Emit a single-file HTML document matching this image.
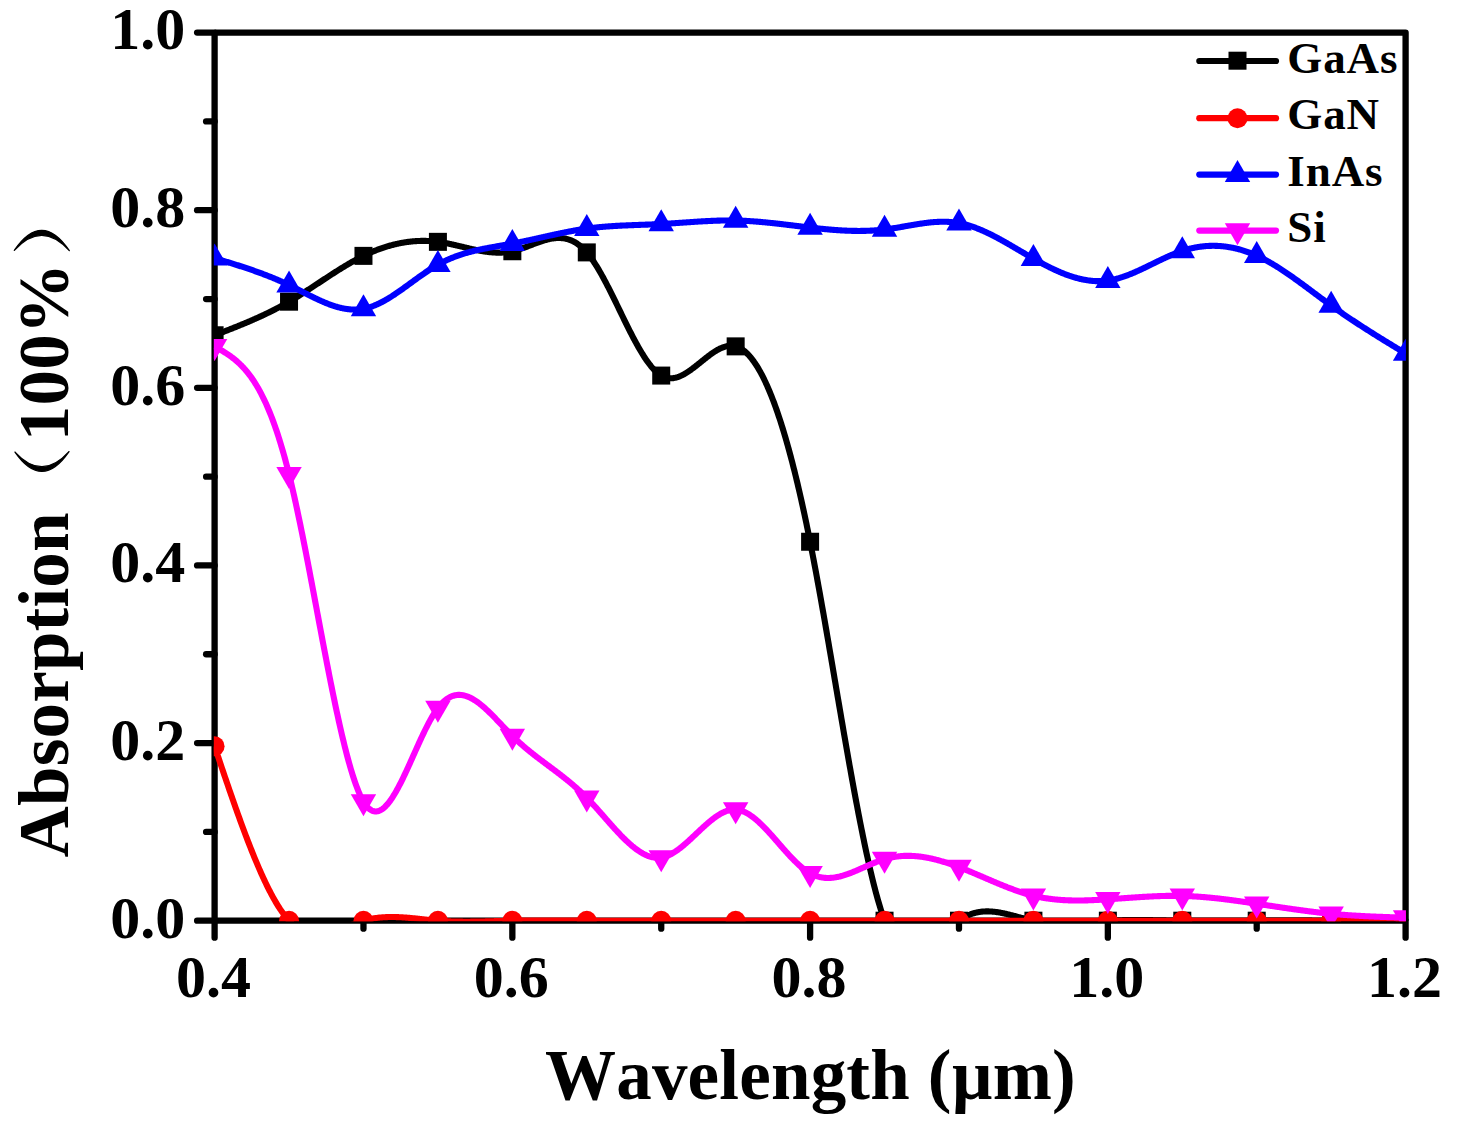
<!DOCTYPE html>
<html><head><meta charset="utf-8"><style>
html,body{margin:0;padding:0;background:#fff;width:1459px;height:1130px;overflow:hidden;}
svg{display:block;}
text{font-family:"Liberation Serif",serif;font-weight:bold;font-kerning:none;}
</style></head><body>
<svg width="1459" height="1130" viewBox="0 0 1459 1130">
<defs><clipPath id="pc"><rect x="213.80" y="32.60" width="1192.10" height="888.60"/></clipPath></defs>
<path d="M214.60,32.60 H1405.60 V920.70" fill="none" stroke="#000" stroke-width="6.30" stroke-linejoin="round"/>
<path d="M214.60,32.60 V920.70 H1405.60" fill="none" stroke="#000" stroke-width="6.30" stroke-linejoin="round"/>
<path d="M197.10,920.70 H214.60" stroke="#000" stroke-width="6.30" stroke-linecap="round"/>
<path d="M206.10,831.89 H214.60" stroke="#000" stroke-width="6.30" stroke-linecap="round"/>
<path d="M197.10,743.08 H214.60" stroke="#000" stroke-width="6.30" stroke-linecap="round"/>
<path d="M206.10,654.27 H214.60" stroke="#000" stroke-width="6.30" stroke-linecap="round"/>
<path d="M197.10,565.46 H214.60" stroke="#000" stroke-width="6.30" stroke-linecap="round"/>
<path d="M206.10,476.65 H214.60" stroke="#000" stroke-width="6.30" stroke-linecap="round"/>
<path d="M197.10,387.84 H214.60" stroke="#000" stroke-width="6.30" stroke-linecap="round"/>
<path d="M206.10,299.03 H214.60" stroke="#000" stroke-width="6.30" stroke-linecap="round"/>
<path d="M197.10,210.22 H214.60" stroke="#000" stroke-width="6.30" stroke-linecap="round"/>
<path d="M206.10,121.41 H214.60" stroke="#000" stroke-width="6.30" stroke-linecap="round"/>
<path d="M197.10,32.60 H214.60" stroke="#000" stroke-width="6.30" stroke-linecap="round"/>
<path d="M214.60,920.70 V937.70" stroke="#000" stroke-width="6.30" stroke-linecap="round"/>
<path d="M363.47,920.70 V928.70" stroke="#000" stroke-width="6.30" stroke-linecap="round"/>
<path d="M512.35,920.70 V937.70" stroke="#000" stroke-width="6.30" stroke-linecap="round"/>
<path d="M661.23,920.70 V928.70" stroke="#000" stroke-width="6.30" stroke-linecap="round"/>
<path d="M810.10,920.70 V937.70" stroke="#000" stroke-width="6.30" stroke-linecap="round"/>
<path d="M958.98,920.70 V928.70" stroke="#000" stroke-width="6.30" stroke-linecap="round"/>
<path d="M1107.85,920.70 V937.70" stroke="#000" stroke-width="6.30" stroke-linecap="round"/>
<path d="M1256.72,920.70 V928.70" stroke="#000" stroke-width="6.30" stroke-linecap="round"/>
<path d="M1405.60,920.70 V937.70" stroke="#000" stroke-width="6.30" stroke-linecap="round"/>
<text x="185.25" y="937.50" font-size="60" text-anchor="end">0.0</text>
<text x="185.25" y="759.88" font-size="60" text-anchor="end">0.2</text>
<text x="185.25" y="582.26" font-size="60" text-anchor="end">0.4</text>
<text x="185.25" y="404.64" font-size="60" text-anchor="end">0.6</text>
<text x="185.25" y="227.02" font-size="60" text-anchor="end">0.8</text>
<text x="185.25" y="49.40" font-size="60" text-anchor="end">1.0</text>
<text x="213.40" y="996.5" font-size="60" text-anchor="middle">0.4</text>
<text x="511.15" y="996.5" font-size="60" text-anchor="middle">0.6</text>
<text x="808.90" y="996.5" font-size="60" text-anchor="middle">0.8</text>
<text x="1106.65" y="996.5" font-size="60" text-anchor="middle">1.0</text>
<text x="1404.40" y="996.5" font-size="60" text-anchor="middle">1.2</text>
<text x="545.0" y="1099.1" font-size="71.0" letter-spacing="0.2">Wavelength (&#181;m)</text>
<g transform="translate(68.3,857.5) rotate(-90)">
<text x="0" y="0" font-size="71.0" letter-spacing="0.2">Absorption</text>
<text x="416.3" y="0" font-size="71.0" letter-spacing="0.2">100%</text>
</g>
<path d="M15,452.1 Q42,490.95 69,451.6 Q42,481.55 15,452.1 Z" fill="#000" stroke="#000" stroke-width="1.3" stroke-linejoin="round"/>
<path d="M14.3,250.3 Q41.8,210.15 69.3,250.6 Q41.8,220.15 14.3,250.3 Z" fill="#000" stroke="#000" stroke-width="1.3" stroke-linejoin="round"/>
<g clip-path="url(#pc)">
<path d="M214.60,335.26 L215.34,334.98 L216.09,334.69 L216.83,334.40 L217.58,334.11 L218.32,333.83 L219.07,333.54 L219.81,333.25 L220.56,332.96 L221.30,332.67 L222.04,332.39 L222.79,332.10 L223.53,331.81 L224.28,331.52 L225.02,331.23 L225.77,330.94 L226.51,330.65 L227.25,330.36 L228.00,330.06 L228.74,329.77 L229.49,329.48 L230.23,329.18 L230.98,328.89 L231.72,328.60 L232.47,328.30 L233.21,328.00 L233.95,327.71 L234.70,327.41 L235.44,327.11 L236.19,326.81 L236.93,326.51 L237.68,326.21 L238.42,325.91 L239.16,325.61 L239.91,325.30 L240.65,325.00 L241.40,324.69 L242.14,324.39 L242.89,324.08 L243.63,323.77 L244.38,323.46 L245.12,323.15 L245.86,322.84 L246.61,322.52 L247.35,322.21 L248.10,321.89 L248.84,321.58 L249.59,321.26 L250.33,320.94 L251.07,320.61 L251.82,320.29 L252.56,319.97 L253.31,319.64 L254.05,319.31 L254.80,318.99 L255.54,318.66 L256.29,318.32 L257.03,317.99 L257.77,317.65 L258.52,317.32 L259.26,316.98 L260.01,316.64 L260.75,316.30 L261.50,315.95 L262.24,315.61 L262.98,315.26 L263.73,314.91 L264.47,314.56 L265.22,314.20 L265.96,313.85 L266.71,313.49 L267.45,313.13 L268.20,312.77 L268.94,312.41 L269.68,312.04 L270.43,311.67 L271.17,311.30 L271.92,310.93 L272.66,310.56 L273.41,310.18 L274.15,309.80 L274.89,309.42 L275.64,309.04 L276.38,308.65 L277.13,308.26 L277.87,307.87 L278.62,307.48 L279.36,307.08 L280.10,306.68 L280.85,306.28 L281.59,305.88 L282.34,305.47 L283.08,305.06 L283.83,304.65 L284.57,304.24 L285.32,303.82 L286.06,303.40 L286.80,302.98 L287.55,302.55 L288.29,302.13 L289.04,301.69 L289.78,301.26 L290.53,300.82 L291.27,300.38 L292.01,299.94 L292.76,299.50 L293.50,299.05 L294.25,298.60 L294.99,298.15 L295.74,297.69 L296.48,297.24 L297.23,296.78 L297.97,296.32 L298.71,295.85 L299.46,295.39 L300.20,294.92 L300.95,294.45 L301.69,293.98 L302.44,293.51 L303.18,293.04 L303.92,292.56 L304.67,292.09 L305.41,291.61 L306.16,291.13 L306.90,290.65 L307.65,290.16 L308.39,289.68 L309.14,289.20 L309.88,288.71 L310.62,288.23 L311.37,287.74 L312.11,287.25 L312.86,286.76 L313.60,286.28 L314.35,285.79 L315.09,285.30 L315.83,284.81 L316.58,284.31 L317.32,283.82 L318.07,283.33 L318.81,282.84 L319.56,282.35 L320.30,281.86 L321.05,281.37 L321.79,280.88 L322.53,280.39 L323.28,279.90 L324.02,279.41 L324.77,278.92 L325.51,278.43 L326.26,277.94 L327.00,277.45 L327.75,276.97 L328.49,276.48 L329.23,275.99 L329.98,275.51 L330.72,275.03 L331.47,274.54 L332.21,274.06 L332.96,273.58 L333.70,273.10 L334.44,272.63 L335.19,272.15 L335.93,271.68 L336.68,271.21 L337.42,270.74 L338.17,270.27 L338.91,269.80 L339.66,269.33 L340.40,268.87 L341.14,268.41 L341.89,267.95 L342.63,267.49 L343.38,267.04 L344.12,266.59 L344.87,266.14 L345.61,265.69 L346.35,265.24 L347.10,264.80 L347.84,264.36 L348.59,263.92 L349.33,263.49 L350.08,263.06 L350.82,262.63 L351.56,262.20 L352.31,261.78 L353.05,261.36 L353.80,260.95 L354.54,260.53 L355.29,260.12 L356.03,259.72 L356.78,259.32 L357.52,258.92 L358.26,258.52 L359.01,258.13 L359.75,257.75 L360.50,257.36 L361.24,256.98 L361.99,256.61 L362.73,256.24 L363.47,255.87 L364.22,255.51 L364.96,255.15 L365.71,254.79 L366.45,254.44 L367.20,254.10 L367.94,253.75 L368.69,253.42 L369.43,253.08 L370.17,252.76 L370.92,252.43 L371.66,252.11 L372.41,251.80 L373.15,251.48 L373.90,251.18 L374.64,250.87 L375.38,250.58 L376.13,250.28 L376.87,249.99 L377.62,249.71 L378.36,249.43 L379.11,249.15 L379.85,248.88 L380.60,248.61 L381.34,248.35 L382.08,248.09 L382.83,247.83 L383.57,247.58 L384.32,247.34 L385.06,247.10 L385.81,246.86 L386.55,246.63 L387.29,246.40 L388.04,246.18 L388.78,245.96 L389.53,245.75 L390.27,245.54 L391.02,245.33 L391.76,245.13 L392.51,244.93 L393.25,244.74 L393.99,244.56 L394.74,244.37 L395.48,244.20 L396.23,244.02 L396.97,243.85 L397.72,243.69 L398.46,243.53 L399.20,243.38 L399.95,243.23 L400.69,243.08 L401.44,242.94 L402.18,242.80 L402.93,242.67 L403.67,242.54 L404.42,242.42 L405.16,242.30 L405.90,242.19 L406.65,242.08 L407.39,241.98 L408.14,241.88 L408.88,241.78 L409.63,241.69 L410.37,241.61 L411.12,241.53 L411.86,241.45 L412.60,241.38 L413.35,241.31 L414.09,241.25 L414.84,241.20 L415.58,241.14 L416.33,241.10 L417.07,241.06 L417.81,241.02 L418.56,240.98 L419.30,240.96 L420.05,240.93 L420.79,240.91 L421.54,240.90 L422.28,240.89 L423.02,240.89 L423.77,240.89 L424.51,240.90 L425.26,240.91 L426.00,240.92 L426.75,240.94 L427.49,240.97 L428.24,241.00 L428.98,241.03 L429.72,241.07 L430.47,241.12 L431.21,241.17 L431.96,241.22 L432.70,241.28 L433.45,241.35 L434.19,241.41 L434.94,241.49 L435.68,241.57 L436.42,241.65 L437.17,241.74 L437.91,241.84 L438.66,241.94 L439.40,242.04 L440.15,242.15 L440.89,242.26 L441.63,242.38 L442.38,242.50 L443.12,242.63 L443.87,242.76 L444.61,242.89 L445.36,243.03 L446.10,243.17 L446.85,243.31 L447.59,243.46 L448.33,243.61 L449.08,243.76 L449.82,243.92 L450.57,244.08 L451.31,244.24 L452.06,244.40 L452.80,244.57 L453.54,244.74 L454.29,244.90 L455.03,245.08 L455.78,245.25 L456.52,245.42 L457.27,245.60 L458.01,245.77 L458.75,245.95 L459.50,246.13 L460.24,246.30 L460.99,246.48 L461.73,246.66 L462.48,246.84 L463.22,247.02 L463.97,247.20 L464.71,247.38 L465.45,247.56 L466.20,247.73 L466.94,247.91 L467.69,248.09 L468.43,248.26 L469.18,248.43 L469.92,248.61 L470.67,248.78 L471.41,248.95 L472.15,249.11 L472.90,249.28 L473.64,249.44 L474.39,249.60 L475.13,249.76 L475.88,249.92 L476.62,250.07 L477.36,250.22 L478.11,250.37 L478.85,250.51 L479.60,250.65 L480.34,250.79 L481.09,250.92 L481.83,251.05 L482.58,251.18 L483.32,251.30 L484.06,251.42 L484.81,251.53 L485.55,251.64 L486.30,251.74 L487.04,251.84 L487.79,251.94 L488.53,252.03 L489.27,252.11 L490.02,252.19 L490.76,252.26 L491.51,252.33 L492.25,252.39 L493.00,252.44 L493.74,252.49 L494.49,252.53 L495.23,252.57 L495.97,252.60 L496.72,252.62 L497.46,252.64 L498.21,252.65 L498.95,252.65 L499.70,252.64 L500.44,252.63 L501.18,252.60 L501.93,252.58 L502.67,252.54 L503.42,252.49 L504.16,252.44 L504.91,252.38 L505.65,252.30 L506.40,252.22 L507.14,252.14 L507.88,252.04 L508.63,251.93 L509.37,251.81 L510.12,251.69 L510.86,251.55 L511.61,251.41 L512.35,251.25 L513.09,251.08 L513.84,250.91 L514.58,250.72 L515.33,250.53 L516.07,250.33 L516.82,250.12 L517.56,249.90 L518.31,249.68 L519.05,249.44 L519.79,249.20 L520.54,248.96 L521.28,248.71 L522.03,248.45 L522.77,248.19 L523.52,247.93 L524.26,247.66 L525.00,247.39 L525.75,247.11 L526.49,246.83 L527.24,246.55 L527.98,246.27 L528.73,245.99 L529.47,245.70 L530.21,245.41 L530.96,245.13 L531.70,244.84 L532.45,244.55 L533.19,244.27 L533.94,243.98 L534.68,243.70 L535.43,243.42 L536.17,243.14 L536.91,242.87 L537.66,242.60 L538.40,242.33 L539.15,242.07 L539.89,241.81 L540.64,241.55 L541.38,241.30 L542.12,241.06 L542.87,240.82 L543.61,240.59 L544.36,240.37 L545.10,240.15 L545.85,239.94 L546.59,239.74 L547.34,239.55 L548.08,239.37 L548.82,239.20 L549.57,239.03 L550.31,238.88 L551.06,238.74 L551.80,238.61 L552.55,238.49 L553.29,238.38 L554.03,238.28 L554.78,238.20 L555.52,238.13 L556.27,238.07 L557.01,238.03 L557.76,238.00 L558.50,237.99 L559.25,237.99 L559.99,238.01 L560.73,238.04 L561.48,238.09 L562.22,238.16 L562.97,238.24 L563.71,238.34 L564.46,238.46 L565.20,238.60 L565.94,238.75 L566.69,238.93 L567.43,239.12 L568.18,239.34 L568.92,239.57 L569.67,239.83 L570.41,240.11 L571.16,240.40 L571.90,240.73 L572.64,241.07 L573.39,241.44 L574.13,241.82 L574.88,242.24 L575.62,242.68 L576.37,243.14 L577.11,243.62 L577.85,244.14 L578.60,244.67 L579.34,245.24 L580.09,245.83 L580.83,246.45 L581.58,247.09 L582.32,247.76 L583.07,248.46 L583.81,249.19 L584.55,249.95 L585.30,250.74 L586.04,251.56 L586.79,252.40 L587.53,253.28 L588.28,254.19 L589.02,255.13 L589.76,256.09 L590.51,257.09 L591.25,258.11 L592.00,259.16 L592.74,260.23 L593.49,261.33 L594.23,262.45 L594.98,263.59 L595.72,264.76 L596.46,265.95 L597.21,267.17 L597.95,268.40 L598.70,269.65 L599.44,270.93 L600.19,272.22 L600.93,273.53 L601.67,274.86 L602.42,276.20 L603.16,277.56 L603.91,278.93 L604.65,280.32 L605.40,281.73 L606.14,283.14 L606.89,284.57 L607.63,286.02 L608.37,287.47 L609.12,288.93 L609.86,290.40 L610.61,291.88 L611.35,293.37 L612.10,294.87 L612.84,296.37 L613.59,297.89 L614.33,299.40 L615.07,300.92 L615.82,302.45 L616.56,303.97 L617.31,305.51 L618.05,307.04 L618.80,308.57 L619.54,310.11 L620.28,311.64 L621.03,313.18 L621.77,314.71 L622.52,316.24 L623.26,317.77 L624.01,319.29 L624.75,320.81 L625.50,322.33 L626.24,323.84 L626.98,325.34 L627.73,326.84 L628.47,328.32 L629.22,329.80 L629.96,331.28 L630.71,332.74 L631.45,334.19 L632.19,335.63 L632.94,337.05 L633.68,338.47 L634.43,339.87 L635.17,341.26 L635.92,342.63 L636.66,343.99 L637.40,345.33 L638.15,346.65 L638.89,347.96 L639.64,349.25 L640.38,350.52 L641.13,351.77 L641.87,353.00 L642.62,354.21 L643.36,355.40 L644.10,356.56 L644.85,357.70 L645.59,358.82 L646.34,359.91 L647.08,360.98 L647.83,362.03 L648.57,363.04 L649.31,364.03 L650.06,364.99 L650.80,365.93 L651.55,366.83 L652.29,367.70 L653.04,368.54 L653.78,369.36 L654.53,370.13 L655.27,370.88 L656.01,371.59 L656.76,372.27 L657.50,372.91 L658.25,373.52 L658.99,374.09 L659.74,374.63 L660.48,375.13 L661.22,375.58 L661.97,376.00 L662.71,376.39 L663.46,376.73 L664.20,377.04 L664.95,377.31 L665.69,377.54 L666.44,377.74 L667.18,377.91 L667.92,378.04 L668.67,378.14 L669.41,378.21 L670.16,378.25 L670.90,378.26 L671.65,378.24 L672.39,378.19 L673.13,378.11 L673.88,378.00 L674.62,377.87 L675.37,377.71 L676.11,377.53 L676.86,377.32 L677.60,377.09 L678.35,376.83 L679.09,376.56 L679.83,376.26 L680.58,375.94 L681.32,375.60 L682.07,375.24 L682.81,374.86 L683.56,374.47 L684.30,374.06 L685.04,373.63 L685.79,373.19 L686.53,372.73 L687.28,372.25 L688.02,371.77 L688.77,371.27 L689.51,370.76 L690.26,370.24 L691.00,369.70 L691.74,369.16 L692.49,368.61 L693.23,368.05 L693.98,367.49 L694.72,366.91 L695.47,366.33 L696.21,365.75 L696.95,365.16 L697.70,364.56 L698.44,363.97 L699.19,363.37 L699.93,362.77 L700.68,362.17 L701.42,361.56 L702.17,360.96 L702.91,360.36 L703.65,359.76 L704.40,359.17 L705.14,358.58 L705.89,357.99 L706.63,357.41 L707.38,356.83 L708.12,356.26 L708.86,355.70 L709.61,355.14 L710.35,354.59 L711.10,354.06 L711.84,353.53 L712.59,353.01 L713.33,352.51 L714.08,352.01 L714.82,351.53 L715.56,351.07 L716.31,350.62 L717.05,350.18 L717.80,349.76 L718.54,349.36 L719.29,348.97 L720.03,348.60 L720.77,348.25 L721.52,347.92 L722.26,347.61 L723.01,347.33 L723.75,347.06 L724.50,346.82 L725.24,346.60 L725.99,346.40 L726.73,346.23 L727.47,346.08 L728.22,345.96 L728.96,345.87 L729.71,345.80 L730.45,345.77 L731.20,345.76 L731.94,345.78 L732.68,345.83 L733.43,345.92 L734.17,346.03 L734.92,346.18 L735.66,346.37 L736.41,346.58 L737.15,346.83 L737.90,347.12 L738.64,347.44 L739.38,347.79 L740.13,348.18 L740.87,348.61 L741.62,349.06 L742.36,349.56 L743.11,350.08 L743.85,350.64 L744.59,351.24 L745.34,351.87 L746.08,352.53 L746.83,353.23 L747.57,353.97 L748.32,354.74 L749.06,355.54 L749.81,356.38 L750.55,357.25 L751.29,358.16 L752.04,359.10 L752.78,360.08 L753.53,361.09 L754.27,362.14 L755.02,363.22 L755.76,364.34 L756.50,365.49 L757.25,366.68 L757.99,367.90 L758.74,369.15 L759.48,370.45 L760.23,371.77 L760.97,373.13 L761.72,374.53 L762.46,375.96 L763.20,377.43 L763.95,378.93 L764.69,380.47 L765.44,382.04 L766.18,383.65 L766.93,385.30 L767.67,386.97 L768.41,388.69 L769.16,390.44 L769.90,392.22 L770.65,394.04 L771.39,395.90 L772.14,397.79 L772.88,399.72 L773.63,401.68 L774.37,403.67 L775.11,405.71 L775.86,407.78 L776.60,409.88 L777.35,412.02 L778.09,414.19 L778.84,416.40 L779.58,418.65 L780.32,420.93 L781.07,423.25 L781.81,425.60 L782.56,427.99 L783.30,430.42 L784.05,432.88 L784.79,435.38 L785.54,437.91 L786.28,440.48 L787.02,443.08 L787.77,445.72 L788.51,448.40 L789.26,451.11 L790.00,453.86 L790.75,456.64 L791.49,459.46 L792.24,462.32 L792.98,465.21 L793.72,468.14 L794.47,471.10 L795.21,474.11 L795.96,477.14 L796.70,480.21 L797.45,483.32 L798.19,486.47 L798.93,489.65 L799.68,492.87 L800.42,496.12 L801.17,499.42 L801.91,502.74 L802.66,506.11 L803.40,509.51 L804.14,512.94 L804.89,516.41 L805.63,519.92 L806.38,523.47 L807.12,527.05 L807.87,530.67 L808.61,534.33 L809.36,538.02 L810.10,541.75 L810.84,545.51 L811.59,549.31 L812.33,553.15 L813.08,557.02 L813.82,560.92 L814.57,564.85 L815.31,568.81 L816.06,572.81 L816.80,576.82 L817.54,580.87 L818.29,584.94 L819.03,589.04 L819.78,593.16 L820.52,597.31 L821.27,601.47 L822.01,605.66 L822.75,609.86 L823.50,614.09 L824.24,618.33 L824.99,622.59 L825.73,626.86 L826.48,631.15 L827.22,635.44 L827.97,639.76 L828.71,644.08 L829.45,648.41 L830.20,652.75 L830.94,657.10 L831.69,661.46 L832.43,665.82 L833.18,670.18 L833.92,674.55 L834.66,678.92 L835.41,683.29 L836.15,687.67 L836.90,692.04 L837.64,696.41 L838.39,700.77 L839.13,705.13 L839.88,709.49 L840.62,713.84 L841.36,718.18 L842.11,722.52 L842.85,726.84 L843.60,731.16 L844.34,735.46 L845.09,739.75 L845.83,744.03 L846.57,748.29 L847.32,752.53 L848.06,756.76 L848.81,760.97 L849.55,765.16 L850.30,769.33 L851.04,773.48 L851.79,777.61 L852.53,781.71 L853.27,785.79 L854.02,789.85 L854.76,793.87 L855.51,797.87 L856.25,801.84 L857.00,805.78 L857.74,809.69 L858.48,813.57 L859.23,817.41 L859.97,821.22 L860.72,824.99 L861.46,828.73 L862.21,832.43 L862.95,836.09 L863.70,839.72 L864.44,843.30 L865.18,846.84 L865.93,850.33 L866.67,853.79 L867.42,857.20 L868.16,860.56 L868.91,863.87 L869.65,867.14 L870.39,870.36 L871.14,873.52 L871.88,876.64 L872.63,879.70 L873.37,882.71 L874.12,885.67 L874.86,888.57 L875.61,891.41 L876.35,894.19 L877.09,896.92 L877.84,899.59 L878.58,902.19 L879.33,904.73 L880.07,907.21 L880.82,909.63 L881.56,911.98 L882.30,914.26 L883.05,916.48 L883.79,918.62 L884.54,920.70 L885.28,922.71 L886.03,924.64 L886.77,926.51 L887.52,928.31 L888.26,930.05 L889.00,931.71 L889.75,933.31 L890.49,934.85 L891.24,936.32 L891.98,937.73 L892.73,939.08 L893.47,940.37 L894.21,941.60 L894.96,942.77 L895.70,943.88 L896.45,944.93 L897.19,945.93 L897.94,946.87 L898.68,947.76 L899.43,948.59 L900.17,949.37 L900.91,950.10 L901.66,950.78 L902.40,951.40 L903.15,951.98 L903.89,952.51 L904.64,953.00 L905.38,953.43 L906.12,953.82 L906.87,954.17 L907.61,954.47 L908.36,954.73 L909.10,954.94 L909.85,955.12 L910.59,955.26 L911.34,955.35 L912.08,955.41 L912.82,955.43 L913.57,955.41 L914.31,955.36 L915.06,955.27 L915.80,955.15 L916.55,955.00 L917.29,954.81 L918.03,954.59 L918.78,954.35 L919.52,954.07 L920.27,953.76 L921.01,953.43 L921.76,953.07 L922.50,952.68 L923.25,952.27 L923.99,951.83 L924.73,951.37 L925.48,950.89 L926.22,950.39 L926.97,949.87 L927.71,949.33 L928.46,948.76 L929.20,948.18 L929.94,947.59 L930.69,946.98 L931.43,946.35 L932.18,945.71 L932.92,945.05 L933.67,944.39 L934.41,943.71 L935.15,943.02 L935.90,942.32 L936.64,941.61 L937.39,940.89 L938.13,940.17 L938.88,939.44 L939.62,938.71 L940.37,937.97 L941.11,937.23 L941.85,936.48 L942.60,935.73 L943.34,934.99 L944.09,934.24 L944.83,933.49 L945.58,932.75 L946.32,932.01 L947.06,931.27 L947.81,930.54 L948.55,929.81 L949.30,929.09 L950.04,928.37 L950.79,927.67 L951.53,926.97 L952.28,926.28 L953.02,925.61 L953.76,924.94 L954.51,924.29 L955.25,923.65 L956.00,923.03 L956.74,922.42 L957.49,921.83 L958.23,921.26 L958.98,920.70 L959.72,920.16 L960.46,919.64 L961.21,919.14 L961.95,918.66 L962.70,918.20 L963.44,917.75 L964.19,917.32 L964.93,916.91 L965.67,916.51 L966.42,916.14 L967.16,915.77 L967.91,915.43 L968.65,915.10 L969.40,914.79 L970.14,914.49 L970.88,914.21 L971.63,913.94 L972.37,913.69 L973.12,913.45 L973.86,913.23 L974.61,913.02 L975.35,912.82 L976.10,912.64 L976.84,912.47 L977.58,912.32 L978.33,912.18 L979.07,912.05 L979.82,911.93 L980.56,911.83 L981.31,911.73 L982.05,911.65 L982.80,911.58 L983.54,911.52 L984.28,911.48 L985.03,911.44 L985.77,911.42 L986.52,911.40 L987.26,911.39 L988.01,911.40 L988.75,911.41 L989.49,911.44 L990.24,911.47 L990.98,911.51 L991.73,911.56 L992.47,911.62 L993.22,911.68 L993.96,911.76 L994.71,911.84 L995.45,911.93 L996.19,912.03 L996.94,912.13 L997.68,912.24 L998.43,912.36 L999.17,912.48 L999.92,912.61 L1000.66,912.74 L1001.40,912.88 L1002.15,913.03 L1002.89,913.18 L1003.64,913.34 L1004.38,913.50 L1005.13,913.66 L1005.87,913.83 L1006.62,914.00 L1007.36,914.17 L1008.10,914.35 L1008.85,914.54 L1009.59,914.72 L1010.34,914.91 L1011.08,915.10 L1011.83,915.29 L1012.57,915.48 L1013.31,915.68 L1014.06,915.88 L1014.80,916.07 L1015.55,916.27 L1016.29,916.47 L1017.04,916.67 L1017.78,916.87 L1018.52,917.07 L1019.27,917.27 L1020.01,917.47 L1020.76,917.67 L1021.50,917.87 L1022.25,918.06 L1022.99,918.26 L1023.74,918.45 L1024.48,918.64 L1025.22,918.83 L1025.97,919.02 L1026.71,919.20 L1027.46,919.38 L1028.20,919.56 L1028.95,919.74 L1029.69,919.91 L1030.43,920.08 L1031.18,920.24 L1031.92,920.40 L1032.67,920.55 L1033.41,920.70 L1034.16,920.84 L1034.90,920.98 L1035.65,921.12 L1036.39,921.25 L1037.13,921.37 L1037.88,921.49 L1038.62,921.61 L1039.37,921.72 L1040.11,921.82 L1040.86,921.92 L1041.60,922.02 L1042.35,922.11 L1043.09,922.20 L1043.83,922.28 L1044.58,922.36 L1045.32,922.44 L1046.07,922.51 L1046.81,922.58 L1047.56,922.64 L1048.30,922.70 L1049.04,922.76 L1049.79,922.81 L1050.53,922.86 L1051.28,922.90 L1052.02,922.95 L1052.77,922.98 L1053.51,923.02 L1054.25,923.05 L1055.00,923.08 L1055.74,923.10 L1056.49,923.12 L1057.23,923.14 L1057.98,923.16 L1058.72,923.17 L1059.47,923.18 L1060.21,923.19 L1060.95,923.19 L1061.70,923.19 L1062.44,923.19 L1063.19,923.19 L1063.93,923.18 L1064.68,923.17 L1065.42,923.16 L1066.16,923.15 L1066.91,923.13 L1067.65,923.12 L1068.40,923.10 L1069.14,923.07 L1069.89,923.05 L1070.63,923.02 L1071.38,923.00 L1072.12,922.97 L1072.86,922.94 L1073.61,922.90 L1074.35,922.87 L1075.10,922.83 L1075.84,922.79 L1076.59,922.76 L1077.33,922.71 L1078.07,922.67 L1078.82,922.63 L1079.56,922.59 L1080.31,922.54 L1081.05,922.50 L1081.80,922.45 L1082.54,922.40 L1083.29,922.35 L1084.03,922.30 L1084.77,922.25 L1085.52,922.20 L1086.26,922.15 L1087.01,922.10 L1087.75,922.05 L1088.50,921.99 L1089.24,921.94 L1089.98,921.89 L1090.73,921.83 L1091.47,921.78 L1092.22,921.73 L1092.96,921.67 L1093.71,921.62 L1094.45,921.57 L1095.20,921.51 L1095.94,921.46 L1096.68,921.41 L1097.43,921.35 L1098.17,921.30 L1098.92,921.25 L1099.66,921.20 L1100.41,921.15 L1101.15,921.10 L1101.89,921.05 L1102.64,921.00 L1103.38,920.96 L1104.13,920.91 L1104.87,920.87 L1105.62,920.82 L1106.36,920.78 L1107.11,920.74 L1107.85,920.70 L1108.59,920.66 L1109.34,920.62 L1110.08,920.59 L1110.83,920.55 L1111.57,920.52 L1112.32,920.49 L1113.06,920.46 L1113.81,920.43 L1114.55,920.40 L1115.29,920.37 L1116.04,920.35 L1116.78,920.32 L1117.53,920.30 L1118.27,920.28 L1119.02,920.25 L1119.76,920.23 L1120.50,920.21 L1121.25,920.20 L1121.99,920.18 L1122.74,920.16 L1123.48,920.15 L1124.23,920.13 L1124.97,920.12 L1125.71,920.11 L1126.46,920.10 L1127.20,920.09 L1127.95,920.08 L1128.69,920.07 L1129.44,920.06 L1130.18,920.06 L1130.93,920.05 L1131.67,920.05 L1132.41,920.04 L1133.16,920.04 L1133.90,920.04 L1134.65,920.03 L1135.39,920.03 L1136.14,920.03 L1136.88,920.03 L1137.62,920.03 L1138.37,920.03 L1139.11,920.04 L1139.86,920.04 L1140.60,920.04 L1141.35,920.05 L1142.09,920.05 L1142.84,920.06 L1143.58,920.06 L1144.32,920.07 L1145.07,920.08 L1145.81,920.08 L1146.56,920.09 L1147.30,920.10 L1148.05,920.11 L1148.79,920.12 L1149.53,920.13 L1150.28,920.14 L1151.02,920.15 L1151.77,920.16 L1152.51,920.17 L1153.26,920.18 L1154.00,920.19 L1154.75,920.21 L1155.49,920.22 L1156.23,920.23 L1156.98,920.24 L1157.72,920.26 L1158.47,920.27 L1159.21,920.28 L1159.96,920.30 L1160.70,920.31 L1161.44,920.33 L1162.19,920.34 L1162.93,920.35 L1163.68,920.37 L1164.42,920.38 L1165.17,920.40 L1165.91,920.41 L1166.66,920.43 L1167.40,920.44 L1168.14,920.45 L1168.89,920.47 L1169.63,920.48 L1170.38,920.50 L1171.12,920.51 L1171.87,920.52 L1172.61,920.54 L1173.36,920.55 L1174.10,920.57 L1174.84,920.58 L1175.59,920.59 L1176.33,920.61 L1177.08,920.62 L1177.82,920.63 L1178.57,920.64 L1179.31,920.66 L1180.05,920.67 L1180.80,920.68 L1181.54,920.69 L1182.29,920.70 L1183.03,920.71 L1183.78,920.72 L1184.52,920.73 L1185.26,920.74 L1186.01,920.75 L1186.75,920.76 L1187.50,920.77 L1188.24,920.77 L1188.99,920.78 L1189.73,920.79 L1190.48,920.79 L1191.22,920.80 L1191.96,920.81 L1192.71,920.81 L1193.45,920.82 L1194.20,920.82 L1194.94,920.83 L1195.69,920.83 L1196.43,920.84 L1197.17,920.84 L1197.92,920.85 L1198.66,920.85 L1199.41,920.86 L1200.15,920.86 L1200.90,920.86 L1201.64,920.86 L1202.39,920.87 L1203.13,920.87 L1203.87,920.87 L1204.62,920.87 L1205.36,920.87 L1206.11,920.88 L1206.85,920.88 L1207.60,920.88 L1208.34,920.88 L1209.09,920.88 L1209.83,920.88 L1210.57,920.88 L1211.32,920.88 L1212.06,920.88 L1212.81,920.88 L1213.55,920.88 L1214.30,920.88 L1215.04,920.88 L1215.78,920.87 L1216.53,920.87 L1217.27,920.87 L1218.02,920.87 L1218.76,920.87 L1219.51,920.87 L1220.25,920.87 L1221.00,920.86 L1221.74,920.86 L1222.48,920.86 L1223.23,920.86 L1223.97,920.85 L1224.72,920.85 L1225.46,920.85 L1226.21,920.84 L1226.95,920.84 L1227.69,920.84 L1228.44,920.84 L1229.18,920.83 L1229.93,920.83 L1230.67,920.83 L1231.42,920.82 L1232.16,920.82 L1232.90,920.82 L1233.65,920.81 L1234.39,920.81 L1235.14,920.80 L1235.88,920.80 L1236.63,920.80 L1237.37,920.79 L1238.12,920.79 L1238.86,920.79 L1239.60,920.78 L1240.35,920.78 L1241.09,920.77 L1241.84,920.77 L1242.58,920.77 L1243.33,920.76 L1244.07,920.76 L1244.81,920.75 L1245.56,920.75 L1246.30,920.75 L1247.05,920.74 L1247.79,920.74 L1248.54,920.74 L1249.28,920.73 L1250.03,920.73 L1250.77,920.73 L1251.51,920.72 L1252.26,920.72 L1253.00,920.72 L1253.75,920.71 L1254.49,920.71 L1255.24,920.71 L1255.98,920.70 L1256.72,920.70 L1257.47,920.70 L1258.21,920.69 L1258.96,920.69 L1259.70,920.69 L1260.45,920.69 L1261.19,920.68 L1261.94,920.68 L1262.68,920.68 L1263.42,920.68 L1264.17,920.68 L1264.91,920.67 L1265.66,920.67 L1266.40,920.67 L1267.15,920.67 L1267.89,920.67 L1268.63,920.67 L1269.38,920.66 L1270.12,920.66 L1270.87,920.66 L1271.61,920.66 L1272.36,920.66 L1273.10,920.66 L1273.85,920.66 L1274.59,920.66 L1275.33,920.66 L1276.08,920.66 L1276.82,920.65 L1277.57,920.65 L1278.31,920.65 L1279.06,920.65 L1279.80,920.65 L1280.54,920.65 L1281.29,920.65 L1282.03,920.65 L1282.78,920.65 L1283.52,920.65 L1284.27,920.65 L1285.01,920.65 L1285.76,920.65 L1286.50,920.65 L1287.24,920.65 L1287.99,920.65 L1288.73,920.65 L1289.48,920.65 L1290.22,920.65 L1290.97,920.65 L1291.71,920.65 L1292.45,920.65 L1293.20,920.65 L1293.94,920.65 L1294.69,920.65 L1295.43,920.66 L1296.18,920.66 L1296.92,920.66 L1297.67,920.66 L1298.41,920.66 L1299.15,920.66 L1299.90,920.66 L1300.64,920.66 L1301.39,920.66 L1302.13,920.66 L1302.88,920.66 L1303.62,920.66 L1304.37,920.66 L1305.11,920.67 L1305.85,920.67 L1306.60,920.67 L1307.34,920.67 L1308.09,920.67 L1308.83,920.67 L1309.58,920.67 L1310.32,920.67 L1311.06,920.67 L1311.81,920.67 L1312.55,920.68 L1313.30,920.68 L1314.04,920.68 L1314.79,920.68 L1315.53,920.68 L1316.28,920.68 L1317.02,920.68 L1317.76,920.68 L1318.51,920.68 L1319.25,920.68 L1320.00,920.69 L1320.74,920.69 L1321.49,920.69 L1322.23,920.69 L1322.97,920.69 L1323.72,920.69 L1324.46,920.69 L1325.21,920.69 L1325.95,920.69 L1326.70,920.69 L1327.44,920.70 L1328.18,920.70 L1328.93,920.70 L1329.67,920.70 L1330.42,920.70 L1331.16,920.70 L1331.91,920.70 L1332.65,920.70 L1333.40,920.70 L1334.14,920.70 L1334.88,920.70 L1335.63,920.70 L1336.37,920.71 L1337.12,920.71 L1337.86,920.71 L1338.61,920.71 L1339.35,920.71 L1340.10,920.71 L1340.84,920.71 L1341.58,920.71 L1342.33,920.71 L1343.07,920.71 L1343.82,920.71 L1344.56,920.71 L1345.31,920.71 L1346.05,920.71 L1346.79,920.71 L1347.54,920.71 L1348.28,920.71 L1349.03,920.71 L1349.77,920.71 L1350.52,920.71 L1351.26,920.71 L1352.00,920.71 L1352.75,920.71 L1353.49,920.71 L1354.24,920.71 L1354.98,920.71 L1355.73,920.71 L1356.47,920.72 L1357.22,920.72 L1357.96,920.72 L1358.70,920.72 L1359.45,920.72 L1360.19,920.72 L1360.94,920.72 L1361.68,920.72 L1362.43,920.72 L1363.17,920.72 L1363.91,920.72 L1364.66,920.72 L1365.40,920.72 L1366.15,920.72 L1366.89,920.72 L1367.64,920.72 L1368.38,920.72 L1369.13,920.72 L1369.87,920.71 L1370.61,920.71 L1371.36,920.71 L1372.10,920.71 L1372.85,920.71 L1373.59,920.71 L1374.34,920.71 L1375.08,920.71 L1375.83,920.71 L1376.57,920.71 L1377.31,920.71 L1378.06,920.71 L1378.80,920.71 L1379.55,920.71 L1380.29,920.71 L1381.04,920.71 L1381.78,920.71 L1382.52,920.71 L1383.27,920.71 L1384.01,920.71 L1384.76,920.71 L1385.50,920.71 L1386.25,920.71 L1386.99,920.71 L1387.74,920.71 L1388.48,920.71 L1389.22,920.71 L1389.97,920.71 L1390.71,920.71 L1391.46,920.71 L1392.20,920.71 L1392.95,920.71 L1393.69,920.71 L1394.43,920.71 L1395.18,920.71 L1395.92,920.71 L1396.67,920.70 L1397.41,920.70 L1398.16,920.70 L1398.90,920.70 L1399.64,920.70 L1400.39,920.70 L1401.13,920.70 L1401.88,920.70 L1402.62,920.70 L1403.37,920.70 L1404.11,920.70 L1404.86,920.70 L1405.60,920.70" fill="none" stroke="#000000" stroke-width="6.10" stroke-linejoin="round"/>
<rect x="205.60" y="326.26" width="18.00" height="18.00" fill="#000000"/>
<rect x="280.04" y="292.69" width="18.00" height="18.00" fill="#000000"/>
<rect x="354.47" y="246.87" width="18.00" height="18.00" fill="#000000"/>
<rect x="428.91" y="232.84" width="18.00" height="18.00" fill="#000000"/>
<rect x="503.35" y="242.25" width="18.00" height="18.00" fill="#000000"/>
<rect x="577.79" y="243.40" width="18.00" height="18.00" fill="#000000"/>
<rect x="652.22" y="366.58" width="18.00" height="18.00" fill="#000000"/>
<rect x="726.66" y="337.37" width="18.00" height="18.00" fill="#000000"/>
<rect x="801.10" y="532.75" width="18.00" height="18.00" fill="#000000"/>
<rect x="875.54" y="911.70" width="18.00" height="18.00" fill="#000000"/>
<rect x="949.98" y="911.70" width="18.00" height="18.00" fill="#000000"/>
<rect x="1024.41" y="911.70" width="18.00" height="18.00" fill="#000000"/>
<rect x="1098.85" y="911.70" width="18.00" height="18.00" fill="#000000"/>
<rect x="1173.29" y="911.70" width="18.00" height="18.00" fill="#000000"/>
<rect x="1247.72" y="911.70" width="18.00" height="18.00" fill="#000000"/>
<rect x="1322.16" y="911.70" width="18.00" height="18.00" fill="#000000"/>
<rect x="1396.60" y="911.70" width="18.00" height="18.00" fill="#000000"/>
<path d="M214.60,746.28 L215.34,748.49 L216.09,750.70 L216.83,752.91 L217.58,755.12 L218.32,757.33 L219.07,759.54 L219.81,761.74 L220.56,763.95 L221.30,766.15 L222.04,768.35 L222.79,770.54 L223.53,772.74 L224.28,774.93 L225.02,777.11 L225.77,779.29 L226.51,781.47 L227.25,783.64 L228.00,785.81 L228.74,787.98 L229.49,790.14 L230.23,792.29 L230.98,794.43 L231.72,796.58 L232.47,798.71 L233.21,800.84 L233.95,802.96 L234.70,805.07 L235.44,807.18 L236.19,809.27 L236.93,811.36 L237.68,813.44 L238.42,815.52 L239.16,817.58 L239.91,819.63 L240.65,821.68 L241.40,823.71 L242.14,825.74 L242.89,827.75 L243.63,829.76 L244.38,831.75 L245.12,833.73 L245.86,835.70 L246.61,837.66 L247.35,839.61 L248.10,841.54 L248.84,843.46 L249.59,845.37 L250.33,847.26 L251.07,849.15 L251.82,851.01 L252.56,852.87 L253.31,854.71 L254.05,856.53 L254.80,858.34 L255.54,860.14 L256.29,861.92 L257.03,863.68 L257.77,865.43 L258.52,867.16 L259.26,868.88 L260.01,870.58 L260.75,872.26 L261.50,873.92 L262.24,875.57 L262.98,877.20 L263.73,878.81 L264.47,880.40 L265.22,881.97 L265.96,883.52 L266.71,885.06 L267.45,886.57 L268.20,888.07 L268.94,889.54 L269.68,891.00 L270.43,892.43 L271.17,893.84 L271.92,895.23 L272.66,896.60 L273.41,897.95 L274.15,899.28 L274.89,900.58 L275.64,901.86 L276.38,903.12 L277.13,904.35 L277.87,905.56 L278.62,906.75 L279.36,907.91 L280.10,909.05 L280.85,910.16 L281.59,911.25 L282.34,912.31 L283.08,913.35 L283.83,914.36 L284.57,915.35 L285.32,916.31 L286.06,917.24 L286.80,918.15 L287.55,919.03 L288.29,919.88 L289.04,920.70 L289.78,921.50 L290.53,922.26 L291.27,923.00 L292.01,923.72 L292.76,924.40 L293.50,925.07 L294.25,925.70 L294.99,926.31 L295.74,926.89 L296.48,927.45 L297.23,927.99 L297.97,928.50 L298.71,928.98 L299.46,929.45 L300.20,929.89 L300.95,930.31 L301.69,930.70 L302.44,931.07 L303.18,931.43 L303.92,931.76 L304.67,932.07 L305.41,932.35 L306.16,932.62 L306.90,932.87 L307.65,933.10 L308.39,933.31 L309.14,933.50 L309.88,933.67 L310.62,933.83 L311.37,933.97 L312.11,934.09 L312.86,934.19 L313.60,934.27 L314.35,934.34 L315.09,934.40 L315.83,934.44 L316.58,934.46 L317.32,934.47 L318.07,934.46 L318.81,934.44 L319.56,934.40 L320.30,934.36 L321.05,934.30 L321.79,934.22 L322.53,934.14 L323.28,934.04 L324.02,933.93 L324.77,933.81 L325.51,933.67 L326.26,933.53 L327.00,933.38 L327.75,933.21 L328.49,933.04 L329.23,932.86 L329.98,932.67 L330.72,932.47 L331.47,932.26 L332.21,932.05 L332.96,931.82 L333.70,931.59 L334.44,931.36 L335.19,931.12 L335.93,930.87 L336.68,930.61 L337.42,930.35 L338.17,930.09 L338.91,929.82 L339.66,929.55 L340.40,929.27 L341.14,928.99 L341.89,928.70 L342.63,928.42 L343.38,928.13 L344.12,927.84 L344.87,927.54 L345.61,927.25 L346.35,926.96 L347.10,926.66 L347.84,926.36 L348.59,926.07 L349.33,925.77 L350.08,925.48 L350.82,925.18 L351.56,924.89 L352.31,924.60 L353.05,924.31 L353.80,924.02 L354.54,923.74 L355.29,923.46 L356.03,923.19 L356.78,922.91 L357.52,922.65 L358.26,922.38 L359.01,922.12 L359.75,921.87 L360.50,921.62 L361.24,921.38 L361.99,921.15 L362.73,920.92 L363.47,920.70 L364.22,920.49 L364.96,920.28 L365.71,920.08 L366.45,919.89 L367.20,919.71 L367.94,919.53 L368.69,919.36 L369.43,919.20 L370.17,919.04 L370.92,918.89 L371.66,918.75 L372.41,918.61 L373.15,918.48 L373.90,918.36 L374.64,918.24 L375.38,918.13 L376.13,918.02 L376.87,917.92 L377.62,917.83 L378.36,917.74 L379.11,917.65 L379.85,917.58 L380.60,917.51 L381.34,917.44 L382.08,917.38 L382.83,917.32 L383.57,917.27 L384.32,917.22 L385.06,917.18 L385.81,917.15 L386.55,917.11 L387.29,917.09 L388.04,917.06 L388.78,917.04 L389.53,917.03 L390.27,917.02 L391.02,917.01 L391.76,917.01 L392.51,917.01 L393.25,917.02 L393.99,917.03 L394.74,917.04 L395.48,917.06 L396.23,917.08 L396.97,917.10 L397.72,917.13 L398.46,917.16 L399.20,917.19 L399.95,917.22 L400.69,917.26 L401.44,917.30 L402.18,917.35 L402.93,917.39 L403.67,917.44 L404.42,917.49 L405.16,917.55 L405.90,917.60 L406.65,917.66 L407.39,917.72 L408.14,917.78 L408.88,917.84 L409.63,917.91 L410.37,917.98 L411.12,918.04 L411.86,918.11 L412.60,918.18 L413.35,918.26 L414.09,918.33 L414.84,918.40 L415.58,918.48 L416.33,918.56 L417.07,918.63 L417.81,918.71 L418.56,918.79 L419.30,918.87 L420.05,918.94 L420.79,919.02 L421.54,919.10 L422.28,919.18 L423.02,919.26 L423.77,919.34 L424.51,919.42 L425.26,919.50 L426.00,919.58 L426.75,919.66 L427.49,919.73 L428.24,919.81 L428.98,919.89 L429.72,919.96 L430.47,920.03 L431.21,920.11 L431.96,920.18 L432.70,920.25 L433.45,920.32 L434.19,920.39 L434.94,920.45 L435.68,920.52 L436.42,920.58 L437.17,920.64 L437.91,920.70 L438.66,920.76 L439.40,920.81 L440.15,920.87 L440.89,920.92 L441.63,920.97 L442.38,921.01 L443.12,921.06 L443.87,921.10 L444.61,921.14 L445.36,921.18 L446.10,921.22 L446.85,921.26 L447.59,921.29 L448.33,921.33 L449.08,921.36 L449.82,921.39 L450.57,921.42 L451.31,921.44 L452.06,921.47 L452.80,921.49 L453.54,921.52 L454.29,921.54 L455.03,921.56 L455.78,921.57 L456.52,921.59 L457.27,921.61 L458.01,921.62 L458.75,921.63 L459.50,921.64 L460.24,921.65 L460.99,921.66 L461.73,921.67 L462.48,921.67 L463.22,921.68 L463.97,921.68 L464.71,921.69 L465.45,921.69 L466.20,921.69 L466.94,921.69 L467.69,921.69 L468.43,921.68 L469.18,921.68 L469.92,921.68 L470.67,921.67 L471.41,921.66 L472.15,921.66 L472.90,921.65 L473.64,921.64 L474.39,921.63 L475.13,921.62 L475.88,921.61 L476.62,921.60 L477.36,921.59 L478.11,921.57 L478.85,921.56 L479.60,921.54 L480.34,921.53 L481.09,921.51 L481.83,921.50 L482.58,921.48 L483.32,921.47 L484.06,921.45 L484.81,921.43 L485.55,921.41 L486.30,921.39 L487.04,921.37 L487.79,921.35 L488.53,921.34 L489.27,921.32 L490.02,921.30 L490.76,921.27 L491.51,921.25 L492.25,921.23 L493.00,921.21 L493.74,921.19 L494.49,921.17 L495.23,921.15 L495.97,921.13 L496.72,921.11 L497.46,921.09 L498.21,921.06 L498.95,921.04 L499.70,921.02 L500.44,921.00 L501.18,920.98 L501.93,920.96 L502.67,920.94 L503.42,920.92 L504.16,920.90 L504.91,920.88 L505.65,920.86 L506.40,920.84 L507.14,920.82 L507.88,920.80 L508.63,920.78 L509.37,920.77 L510.12,920.75 L510.86,920.73 L511.61,920.72 L512.35,920.70 L513.09,920.68 L513.84,920.67 L514.58,920.66 L515.33,920.64 L516.07,920.63 L516.82,920.62 L517.56,920.60 L518.31,920.59 L519.05,920.58 L519.79,920.57 L520.54,920.56 L521.28,920.55 L522.03,920.54 L522.77,920.53 L523.52,920.52 L524.26,920.52 L525.00,920.51 L525.75,920.50 L526.49,920.49 L527.24,920.49 L527.98,920.48 L528.73,920.48 L529.47,920.47 L530.21,920.47 L530.96,920.46 L531.70,920.46 L532.45,920.45 L533.19,920.45 L533.94,920.45 L534.68,920.44 L535.43,920.44 L536.17,920.44 L536.91,920.44 L537.66,920.44 L538.40,920.44 L539.15,920.44 L539.89,920.44 L540.64,920.44 L541.38,920.44 L542.12,920.44 L542.87,920.44 L543.61,920.44 L544.36,920.44 L545.10,920.44 L545.85,920.44 L546.59,920.44 L547.34,920.45 L548.08,920.45 L548.82,920.45 L549.57,920.45 L550.31,920.46 L551.06,920.46 L551.80,920.46 L552.55,920.47 L553.29,920.47 L554.03,920.47 L554.78,920.48 L555.52,920.48 L556.27,920.49 L557.01,920.49 L557.76,920.49 L558.50,920.50 L559.25,920.50 L559.99,920.51 L560.73,920.51 L561.48,920.52 L562.22,920.52 L562.97,920.53 L563.71,920.54 L564.46,920.54 L565.20,920.55 L565.94,920.55 L566.69,920.56 L567.43,920.56 L568.18,920.57 L568.92,920.57 L569.67,920.58 L570.41,920.59 L571.16,920.59 L571.90,920.60 L572.64,920.60 L573.39,920.61 L574.13,920.61 L574.88,920.62 L575.62,920.62 L576.37,920.63 L577.11,920.64 L577.85,920.64 L578.60,920.65 L579.34,920.65 L580.09,920.66 L580.83,920.66 L581.58,920.67 L582.32,920.67 L583.07,920.68 L583.81,920.68 L584.55,920.69 L585.30,920.69 L586.04,920.70 L586.79,920.70 L587.53,920.70 L588.28,920.71 L589.02,920.71 L589.76,920.72 L590.51,920.72 L591.25,920.72 L592.00,920.73 L592.74,920.73 L593.49,920.73 L594.23,920.73 L594.98,920.74 L595.72,920.74 L596.46,920.74 L597.21,920.75 L597.95,920.75 L598.70,920.75 L599.44,920.75 L600.19,920.75 L600.93,920.76 L601.67,920.76 L602.42,920.76 L603.16,920.76 L603.91,920.76 L604.65,920.76 L605.40,920.76 L606.14,920.77 L606.89,920.77 L607.63,920.77 L608.37,920.77 L609.12,920.77 L609.86,920.77 L610.61,920.77 L611.35,920.77 L612.10,920.77 L612.84,920.77 L613.59,920.77 L614.33,920.77 L615.07,920.77 L615.82,920.77 L616.56,920.77 L617.31,920.77 L618.05,920.77 L618.80,920.77 L619.54,920.77 L620.28,920.77 L621.03,920.77 L621.77,920.77 L622.52,920.77 L623.26,920.77 L624.01,920.77 L624.75,920.77 L625.50,920.76 L626.24,920.76 L626.98,920.76 L627.73,920.76 L628.47,920.76 L629.22,920.76 L629.96,920.76 L630.71,920.76 L631.45,920.76 L632.19,920.75 L632.94,920.75 L633.68,920.75 L634.43,920.75 L635.17,920.75 L635.92,920.75 L636.66,920.75 L637.40,920.75 L638.15,920.74 L638.89,920.74 L639.64,920.74 L640.38,920.74 L641.13,920.74 L641.87,920.74 L642.62,920.74 L643.36,920.73 L644.10,920.73 L644.85,920.73 L645.59,920.73 L646.34,920.73 L647.08,920.73 L647.83,920.72 L648.57,920.72 L649.31,920.72 L650.06,920.72 L650.80,920.72 L651.55,920.72 L652.29,920.72 L653.04,920.71 L653.78,920.71 L654.53,920.71 L655.27,920.71 L656.01,920.71 L656.76,920.71 L657.50,920.71 L658.25,920.70 L658.99,920.70 L659.74,920.70 L660.48,920.70 L661.22,920.70 L661.97,920.70 L662.71,920.70 L663.46,920.70 L664.20,920.70 L664.95,920.69 L665.69,920.69 L666.44,920.69 L667.18,920.69 L667.92,920.69 L668.67,920.69 L669.41,920.69 L670.16,920.69 L670.90,920.69 L671.65,920.69 L672.39,920.69 L673.13,920.69 L673.88,920.69 L674.62,920.69 L675.37,920.69 L676.11,920.68 L676.86,920.68 L677.60,920.68 L678.35,920.68 L679.09,920.68 L679.83,920.68 L680.58,920.68 L681.32,920.68 L682.07,920.68 L682.81,920.68 L683.56,920.68 L684.30,920.68 L685.04,920.68 L685.79,920.68 L686.53,920.68 L687.28,920.68 L688.02,920.68 L688.77,920.68 L689.51,920.68 L690.26,920.68 L691.00,920.68 L691.74,920.68 L692.49,920.68 L693.23,920.68 L693.98,920.68 L694.72,920.68 L695.47,920.68 L696.21,920.68 L696.95,920.68 L697.70,920.68 L698.44,920.68 L699.19,920.68 L699.93,920.68 L700.68,920.68 L701.42,920.68 L702.17,920.68 L702.91,920.68 L703.65,920.68 L704.40,920.68 L705.14,920.68 L705.89,920.68 L706.63,920.69 L707.38,920.69 L708.12,920.69 L708.86,920.69 L709.61,920.69 L710.35,920.69 L711.10,920.69 L711.84,920.69 L712.59,920.69 L713.33,920.69 L714.08,920.69 L714.82,920.69 L715.56,920.69 L716.31,920.69 L717.05,920.69 L717.80,920.69 L718.54,920.69 L719.29,920.69 L720.03,920.69 L720.77,920.69 L721.52,920.69 L722.26,920.69 L723.01,920.69 L723.75,920.69 L724.50,920.69 L725.24,920.70 L725.99,920.70 L726.73,920.70 L727.47,920.70 L728.22,920.70 L728.96,920.70 L729.71,920.70 L730.45,920.70 L731.20,920.70 L731.94,920.70 L732.68,920.70 L733.43,920.70 L734.17,920.70 L734.92,920.70 L735.66,920.70 L736.41,920.70 L737.15,920.70 L737.90,920.70 L738.64,920.70 L739.38,920.70 L740.13,920.70 L740.87,920.70 L741.62,920.70 L742.36,920.70 L743.11,920.70 L743.85,920.70 L744.59,920.70 L745.34,920.70 L746.08,920.70 L746.83,920.70 L747.57,920.70 L748.32,920.70 L749.06,920.70 L749.81,920.70 L750.55,920.70 L751.29,920.70 L752.04,920.70 L752.78,920.70 L753.53,920.70 L754.27,920.70 L755.02,920.70 L755.76,920.70 L756.50,920.70 L757.25,920.70 L757.99,920.70 L758.74,920.70 L759.48,920.70 L760.23,920.71 L760.97,920.71 L761.72,920.71 L762.46,920.71 L763.20,920.71 L763.95,920.71 L764.69,920.71 L765.44,920.71 L766.18,920.71 L766.93,920.71 L767.67,920.71 L768.41,920.71 L769.16,920.70 L769.90,920.70 L770.65,920.70 L771.39,920.70 L772.14,920.70 L772.88,920.70 L773.63,920.70 L774.37,920.70 L775.11,920.70 L775.86,920.70 L776.60,920.70 L777.35,920.70 L778.09,920.70 L778.84,920.70 L779.58,920.70 L780.32,920.70 L781.07,920.70 L781.81,920.70 L782.56,920.70 L783.30,920.70 L784.05,920.70 L784.79,920.70 L785.54,920.70 L786.28,920.70 L787.02,920.70 L787.77,920.70 L788.51,920.70 L789.26,920.70 L790.00,920.70 L790.75,920.70 L791.49,920.70 L792.24,920.70 L792.98,920.70 L793.72,920.70 L794.47,920.70 L795.21,920.70 L795.96,920.70 L796.70,920.70 L797.45,920.70 L798.19,920.70 L798.93,920.70 L799.68,920.70 L800.42,920.70 L801.17,920.70 L801.91,920.70 L802.66,920.70 L803.40,920.70 L804.14,920.70 L804.89,920.70 L805.63,920.70 L806.38,920.70 L807.12,920.70 L807.87,920.70 L808.61,920.70 L809.36,920.70 L810.10,920.70 L810.84,920.70 L811.59,920.70 L812.33,920.70 L813.08,920.70 L813.82,920.70 L814.57,920.70 L815.31,920.70 L816.06,920.70 L816.80,920.70 L817.54,920.70 L818.29,920.70 L819.03,920.70 L819.78,920.70 L820.52,920.70 L821.27,920.70 L822.01,920.70 L822.75,920.70 L823.50,920.70 L824.24,920.70 L824.99,920.70 L825.73,920.70 L826.48,920.70 L827.22,920.70 L827.97,920.70 L828.71,920.70 L829.45,920.70 L830.20,920.70 L830.94,920.70 L831.69,920.70 L832.43,920.70 L833.18,920.70 L833.92,920.70 L834.66,920.70 L835.41,920.70 L836.15,920.70 L836.90,920.70 L837.64,920.70 L838.39,920.70 L839.13,920.70 L839.88,920.70 L840.62,920.70 L841.36,920.70 L842.11,920.70 L842.85,920.70 L843.60,920.70 L844.34,920.70 L845.09,920.70 L845.83,920.70 L846.57,920.70 L847.32,920.70 L848.06,920.70 L848.81,920.70 L849.55,920.70 L850.30,920.70 L851.04,920.70 L851.79,920.70 L852.53,920.70 L853.27,920.70 L854.02,920.70 L854.76,920.70 L855.51,920.70 L856.25,920.70 L857.00,920.70 L857.74,920.70 L858.48,920.70 L859.23,920.70 L859.97,920.70 L860.72,920.70 L861.46,920.70 L862.21,920.70 L862.95,920.70 L863.70,920.70 L864.44,920.70 L865.18,920.70 L865.93,920.70 L866.67,920.70 L867.42,920.70 L868.16,920.70 L868.91,920.70 L869.65,920.70 L870.39,920.70 L871.14,920.70 L871.88,920.70 L872.63,920.70 L873.37,920.70 L874.12,920.70 L874.86,920.70 L875.61,920.70 L876.35,920.70 L877.09,920.70 L877.84,920.70 L878.58,920.70 L879.33,920.70 L880.07,920.70 L880.82,920.70 L881.56,920.70 L882.30,920.70 L883.05,920.70 L883.79,920.70 L884.54,920.70 L885.28,920.70 L886.03,920.70 L886.77,920.70 L887.52,920.70 L888.26,920.70 L889.00,920.70 L889.75,920.70 L890.49,920.70 L891.24,920.70 L891.98,920.70 L892.73,920.70 L893.47,920.70 L894.21,920.70 L894.96,920.70 L895.70,920.70 L896.45,920.70 L897.19,920.70 L897.94,920.70 L898.68,920.70 L899.43,920.70 L900.17,920.70 L900.91,920.70 L901.66,920.70 L902.40,920.70 L903.15,920.70 L903.89,920.70 L904.64,920.70 L905.38,920.70 L906.12,920.70 L906.87,920.70 L907.61,920.70 L908.36,920.70 L909.10,920.70 L909.85,920.70 L910.59,920.70 L911.34,920.70 L912.08,920.70 L912.82,920.70 L913.57,920.70 L914.31,920.70 L915.06,920.70 L915.80,920.70 L916.55,920.70 L917.29,920.70 L918.03,920.70 L918.78,920.70 L919.52,920.70 L920.27,920.70 L921.01,920.70 L921.76,920.70 L922.50,920.70 L923.25,920.70 L923.99,920.70 L924.73,920.70 L925.48,920.70 L926.22,920.70 L926.97,920.70 L927.71,920.70 L928.46,920.70 L929.20,920.70 L929.94,920.70 L930.69,920.70 L931.43,920.70 L932.18,920.70 L932.92,920.70 L933.67,920.70 L934.41,920.70 L935.15,920.70 L935.90,920.70 L936.64,920.70 L937.39,920.70 L938.13,920.70 L938.88,920.70 L939.62,920.70 L940.37,920.70 L941.11,920.70 L941.85,920.70 L942.60,920.70 L943.34,920.70 L944.09,920.70 L944.83,920.70 L945.58,920.70 L946.32,920.70 L947.06,920.70 L947.81,920.70 L948.55,920.70 L949.30,920.70 L950.04,920.70 L950.79,920.70 L951.53,920.70 L952.28,920.70 L953.02,920.70 L953.76,920.70 L954.51,920.70 L955.25,920.70 L956.00,920.70 L956.74,920.70 L957.49,920.70 L958.23,920.70 L958.98,920.70 L959.72,920.70 L960.46,920.70 L961.21,920.70 L961.95,920.70 L962.70,920.70 L963.44,920.70 L964.19,920.70 L964.93,920.70 L965.67,920.70 L966.42,920.70 L967.16,920.70 L967.91,920.70 L968.65,920.70 L969.40,920.70 L970.14,920.70 L970.88,920.70 L971.63,920.70 L972.37,920.70 L973.12,920.70 L973.86,920.70 L974.61,920.70 L975.35,920.70 L976.10,920.70 L976.84,920.70 L977.58,920.70 L978.33,920.70 L979.07,920.70 L979.82,920.70 L980.56,920.70 L981.31,920.70 L982.05,920.70 L982.80,920.70 L983.54,920.70 L984.28,920.70 L985.03,920.70 L985.77,920.70 L986.52,920.70 L987.26,920.70 L988.01,920.70 L988.75,920.70 L989.49,920.70 L990.24,920.70 L990.98,920.70 L991.73,920.70 L992.47,920.70 L993.22,920.70 L993.96,920.70 L994.71,920.70 L995.45,920.70 L996.19,920.70 L996.94,920.70 L997.68,920.70 L998.43,920.70 L999.17,920.70 L999.92,920.70 L1000.66,920.70 L1001.40,920.70 L1002.15,920.70 L1002.89,920.70 L1003.64,920.70 L1004.38,920.70 L1005.13,920.70 L1005.87,920.70 L1006.62,920.70 L1007.36,920.70 L1008.10,920.70 L1008.85,920.70 L1009.59,920.70 L1010.34,920.70 L1011.08,920.70 L1011.83,920.70 L1012.57,920.70 L1013.31,920.70 L1014.06,920.70 L1014.80,920.70 L1015.55,920.70 L1016.29,920.70 L1017.04,920.70 L1017.78,920.70 L1018.52,920.70 L1019.27,920.70 L1020.01,920.70 L1020.76,920.70 L1021.50,920.70 L1022.25,920.70 L1022.99,920.70 L1023.74,920.70 L1024.48,920.70 L1025.22,920.70 L1025.97,920.70 L1026.71,920.70 L1027.46,920.70 L1028.20,920.70 L1028.95,920.70 L1029.69,920.70 L1030.43,920.70 L1031.18,920.70 L1031.92,920.70 L1032.67,920.70 L1033.41,920.70 L1034.16,920.70 L1034.90,920.70 L1035.65,920.70 L1036.39,920.70 L1037.13,920.70 L1037.88,920.70 L1038.62,920.70 L1039.37,920.70 L1040.11,920.70 L1040.86,920.70 L1041.60,920.70 L1042.35,920.70 L1043.09,920.70 L1043.83,920.70 L1044.58,920.70 L1045.32,920.70 L1046.07,920.70 L1046.81,920.70 L1047.56,920.70 L1048.30,920.70 L1049.04,920.70 L1049.79,920.70 L1050.53,920.70 L1051.28,920.70 L1052.02,920.70 L1052.77,920.70 L1053.51,920.70 L1054.25,920.70 L1055.00,920.70 L1055.74,920.70 L1056.49,920.70 L1057.23,920.70 L1057.98,920.70 L1058.72,920.70 L1059.47,920.70 L1060.21,920.70 L1060.95,920.70 L1061.70,920.70 L1062.44,920.70 L1063.19,920.70 L1063.93,920.70 L1064.68,920.70 L1065.42,920.70 L1066.16,920.70 L1066.91,920.70 L1067.65,920.70 L1068.40,920.70 L1069.14,920.70 L1069.89,920.70 L1070.63,920.70 L1071.38,920.70 L1072.12,920.70 L1072.86,920.70 L1073.61,920.70 L1074.35,920.70 L1075.10,920.70 L1075.84,920.70 L1076.59,920.70 L1077.33,920.70 L1078.07,920.70 L1078.82,920.70 L1079.56,920.70 L1080.31,920.70 L1081.05,920.70 L1081.80,920.70 L1082.54,920.70 L1083.29,920.70 L1084.03,920.70 L1084.77,920.70 L1085.52,920.70 L1086.26,920.70 L1087.01,920.70 L1087.75,920.70 L1088.50,920.70 L1089.24,920.70 L1089.98,920.70 L1090.73,920.70 L1091.47,920.70 L1092.22,920.70 L1092.96,920.70 L1093.71,920.70 L1094.45,920.70 L1095.20,920.70 L1095.94,920.70 L1096.68,920.70 L1097.43,920.70 L1098.17,920.70 L1098.92,920.70 L1099.66,920.70 L1100.41,920.70 L1101.15,920.70 L1101.89,920.70 L1102.64,920.70 L1103.38,920.70 L1104.13,920.70 L1104.87,920.70 L1105.62,920.70 L1106.36,920.70 L1107.11,920.70 L1107.85,920.70 L1108.59,920.70 L1109.34,920.70 L1110.08,920.70 L1110.83,920.70 L1111.57,920.70 L1112.32,920.70 L1113.06,920.70 L1113.81,920.70 L1114.55,920.70 L1115.29,920.70 L1116.04,920.70 L1116.78,920.70 L1117.53,920.70 L1118.27,920.70 L1119.02,920.70 L1119.76,920.70 L1120.50,920.70 L1121.25,920.70 L1121.99,920.70 L1122.74,920.70 L1123.48,920.70 L1124.23,920.70 L1124.97,920.70 L1125.71,920.70 L1126.46,920.70 L1127.20,920.70 L1127.95,920.70 L1128.69,920.70 L1129.44,920.70 L1130.18,920.70 L1130.93,920.70 L1131.67,920.70 L1132.41,920.70 L1133.16,920.70 L1133.90,920.70 L1134.65,920.70 L1135.39,920.70 L1136.14,920.70 L1136.88,920.70 L1137.62,920.70 L1138.37,920.70 L1139.11,920.70 L1139.86,920.70 L1140.60,920.70 L1141.35,920.70 L1142.09,920.70 L1142.84,920.70 L1143.58,920.70 L1144.32,920.70 L1145.07,920.70 L1145.81,920.70 L1146.56,920.70 L1147.30,920.70 L1148.05,920.70 L1148.79,920.70 L1149.53,920.70 L1150.28,920.70 L1151.02,920.70 L1151.77,920.70 L1152.51,920.70 L1153.26,920.70 L1154.00,920.70 L1154.75,920.70 L1155.49,920.70 L1156.23,920.70 L1156.98,920.70 L1157.72,920.70 L1158.47,920.70 L1159.21,920.70 L1159.96,920.70 L1160.70,920.70 L1161.44,920.70 L1162.19,920.70 L1162.93,920.70 L1163.68,920.70 L1164.42,920.70 L1165.17,920.70 L1165.91,920.70 L1166.66,920.70 L1167.40,920.70 L1168.14,920.70 L1168.89,920.70 L1169.63,920.70 L1170.38,920.70 L1171.12,920.70 L1171.87,920.70 L1172.61,920.70 L1173.36,920.70 L1174.10,920.70 L1174.84,920.70 L1175.59,920.70 L1176.33,920.70 L1177.08,920.70 L1177.82,920.70 L1178.57,920.70 L1179.31,920.70 L1180.05,920.70 L1180.80,920.70 L1181.54,920.70 L1182.29,920.70 L1183.03,920.70 L1183.78,920.70 L1184.52,920.70 L1185.26,920.70 L1186.01,920.70 L1186.75,920.70 L1187.50,920.70 L1188.24,920.70 L1188.99,920.70 L1189.73,920.70 L1190.48,920.70 L1191.22,920.70 L1191.96,920.70 L1192.71,920.70 L1193.45,920.70 L1194.20,920.70 L1194.94,920.70 L1195.69,920.70 L1196.43,920.70 L1197.17,920.70 L1197.92,920.70 L1198.66,920.70 L1199.41,920.70 L1200.15,920.70 L1200.90,920.70 L1201.64,920.70 L1202.39,920.70 L1203.13,920.70 L1203.87,920.70 L1204.62,920.70 L1205.36,920.70 L1206.11,920.70 L1206.85,920.70 L1207.60,920.70 L1208.34,920.70 L1209.09,920.70 L1209.83,920.70 L1210.57,920.70 L1211.32,920.70 L1212.06,920.70 L1212.81,920.70 L1213.55,920.70 L1214.30,920.70 L1215.04,920.70 L1215.78,920.70 L1216.53,920.70 L1217.27,920.70 L1218.02,920.70 L1218.76,920.70 L1219.51,920.70 L1220.25,920.70 L1221.00,920.70 L1221.74,920.70 L1222.48,920.70 L1223.23,920.70 L1223.97,920.70 L1224.72,920.70 L1225.46,920.70 L1226.21,920.70 L1226.95,920.70 L1227.69,920.70 L1228.44,920.70 L1229.18,920.70 L1229.93,920.70 L1230.67,920.70 L1231.42,920.70 L1232.16,920.70 L1232.90,920.70 L1233.65,920.70 L1234.39,920.70 L1235.14,920.70 L1235.88,920.70 L1236.63,920.70 L1237.37,920.70 L1238.12,920.70 L1238.86,920.70 L1239.60,920.70 L1240.35,920.70 L1241.09,920.70 L1241.84,920.70 L1242.58,920.70 L1243.33,920.70 L1244.07,920.70 L1244.81,920.70 L1245.56,920.70 L1246.30,920.70 L1247.05,920.70 L1247.79,920.70 L1248.54,920.70 L1249.28,920.70 L1250.03,920.70 L1250.77,920.70 L1251.51,920.70 L1252.26,920.70 L1253.00,920.70 L1253.75,920.70 L1254.49,920.70 L1255.24,920.70 L1255.98,920.70 L1256.72,920.70 L1257.47,920.70 L1258.21,920.70 L1258.96,920.70 L1259.70,920.70 L1260.45,920.70 L1261.19,920.70 L1261.94,920.70 L1262.68,920.70 L1263.42,920.70 L1264.17,920.70 L1264.91,920.70 L1265.66,920.70 L1266.40,920.70 L1267.15,920.70 L1267.89,920.70 L1268.63,920.70 L1269.38,920.70 L1270.12,920.70 L1270.87,920.70 L1271.61,920.70 L1272.36,920.70 L1273.10,920.70 L1273.85,920.70 L1274.59,920.70 L1275.33,920.70 L1276.08,920.70 L1276.82,920.70 L1277.57,920.70 L1278.31,920.70 L1279.06,920.70 L1279.80,920.70 L1280.54,920.70 L1281.29,920.70 L1282.03,920.70 L1282.78,920.70 L1283.52,920.70 L1284.27,920.70 L1285.01,920.70 L1285.76,920.70 L1286.50,920.70 L1287.24,920.70 L1287.99,920.70 L1288.73,920.70 L1289.48,920.70 L1290.22,920.70 L1290.97,920.70 L1291.71,920.70 L1292.45,920.70 L1293.20,920.70 L1293.94,920.70 L1294.69,920.70 L1295.43,920.70 L1296.18,920.70 L1296.92,920.70 L1297.67,920.70 L1298.41,920.70 L1299.15,920.70 L1299.90,920.70 L1300.64,920.70 L1301.39,920.70 L1302.13,920.70 L1302.88,920.70 L1303.62,920.70 L1304.37,920.70 L1305.11,920.70 L1305.85,920.70 L1306.60,920.70 L1307.34,920.70 L1308.09,920.70 L1308.83,920.70 L1309.58,920.70 L1310.32,920.70 L1311.06,920.70 L1311.81,920.70 L1312.55,920.70 L1313.30,920.70 L1314.04,920.70 L1314.79,920.70 L1315.53,920.70 L1316.28,920.70 L1317.02,920.70 L1317.76,920.70 L1318.51,920.70 L1319.25,920.70 L1320.00,920.70 L1320.74,920.70 L1321.49,920.70 L1322.23,920.70 L1322.97,920.70 L1323.72,920.70 L1324.46,920.70 L1325.21,920.70 L1325.95,920.70 L1326.70,920.70 L1327.44,920.70 L1328.18,920.70 L1328.93,920.70 L1329.67,920.70 L1330.42,920.70 L1331.16,920.70 L1331.91,920.70 L1332.65,920.70 L1333.40,920.70 L1334.14,920.70 L1334.88,920.70 L1335.63,920.70 L1336.37,920.70 L1337.12,920.70 L1337.86,920.70 L1338.61,920.70 L1339.35,920.70 L1340.10,920.70 L1340.84,920.70 L1341.58,920.70 L1342.33,920.70 L1343.07,920.70 L1343.82,920.70 L1344.56,920.70 L1345.31,920.70 L1346.05,920.70 L1346.79,920.70 L1347.54,920.70 L1348.28,920.70 L1349.03,920.70 L1349.77,920.70 L1350.52,920.70 L1351.26,920.70 L1352.00,920.70 L1352.75,920.70 L1353.49,920.70 L1354.24,920.70 L1354.98,920.70 L1355.73,920.70 L1356.47,920.70 L1357.22,920.70 L1357.96,920.70 L1358.70,920.70 L1359.45,920.70 L1360.19,920.70 L1360.94,920.70 L1361.68,920.70 L1362.43,920.70 L1363.17,920.70 L1363.91,920.70 L1364.66,920.70 L1365.40,920.70 L1366.15,920.70 L1366.89,920.70 L1367.64,920.70 L1368.38,920.70 L1369.13,920.70 L1369.87,920.70 L1370.61,920.70 L1371.36,920.70 L1372.10,920.70 L1372.85,920.70 L1373.59,920.70 L1374.34,920.70 L1375.08,920.70 L1375.83,920.70 L1376.57,920.70 L1377.31,920.70 L1378.06,920.70 L1378.80,920.70 L1379.55,920.70 L1380.29,920.70 L1381.04,920.70 L1381.78,920.70 L1382.52,920.70 L1383.27,920.70 L1384.01,920.70 L1384.76,920.70 L1385.50,920.70 L1386.25,920.70 L1386.99,920.70 L1387.74,920.70 L1388.48,920.70 L1389.22,920.70 L1389.97,920.70 L1390.71,920.70 L1391.46,920.70 L1392.20,920.70 L1392.95,920.70 L1393.69,920.70 L1394.43,920.70 L1395.18,920.70 L1395.92,920.70 L1396.67,920.70 L1397.41,920.70 L1398.16,920.70 L1398.90,920.70 L1399.64,920.70 L1400.39,920.70 L1401.13,920.70 L1401.88,920.70 L1402.62,920.70 L1403.37,920.70 L1404.11,920.70 L1404.86,920.70 L1405.60,920.70" fill="none" stroke="#ff0000" stroke-width="6.10" stroke-linejoin="round"/>
<circle cx="214.60" cy="746.28" r="10.00" fill="#ff0000"/>
<circle cx="289.04" cy="920.70" r="10.00" fill="#ff0000"/>
<circle cx="363.47" cy="920.70" r="10.00" fill="#ff0000"/>
<circle cx="437.91" cy="920.70" r="10.00" fill="#ff0000"/>
<circle cx="512.35" cy="920.70" r="10.00" fill="#ff0000"/>
<circle cx="586.79" cy="920.70" r="10.00" fill="#ff0000"/>
<circle cx="661.22" cy="920.70" r="10.00" fill="#ff0000"/>
<circle cx="735.66" cy="920.70" r="10.00" fill="#ff0000"/>
<circle cx="810.10" cy="920.70" r="10.00" fill="#ff0000"/>
<circle cx="884.54" cy="920.70" r="10.00" fill="#ff0000"/>
<circle cx="958.98" cy="920.70" r="10.00" fill="#ff0000"/>
<circle cx="1033.41" cy="920.70" r="10.00" fill="#ff0000"/>
<circle cx="1107.85" cy="920.70" r="10.00" fill="#ff0000"/>
<circle cx="1182.29" cy="920.70" r="10.00" fill="#ff0000"/>
<circle cx="1256.72" cy="920.70" r="10.00" fill="#ff0000"/>
<circle cx="1331.16" cy="920.70" r="10.00" fill="#ff0000"/>
<circle cx="1405.60" cy="920.70" r="10.00" fill="#ff0000"/>
<path d="M214.60,258.18 L215.34,258.40 L216.09,258.63 L216.83,258.85 L217.58,259.08 L218.32,259.30 L219.07,259.53 L219.81,259.75 L220.56,259.98 L221.30,260.20 L222.04,260.43 L222.79,260.65 L223.53,260.88 L224.28,261.11 L225.02,261.33 L225.77,261.56 L226.51,261.79 L227.25,262.02 L228.00,262.25 L228.74,262.48 L229.49,262.71 L230.23,262.94 L230.98,263.17 L231.72,263.40 L232.47,263.63 L233.21,263.86 L233.95,264.10 L234.70,264.33 L235.44,264.57 L236.19,264.80 L236.93,265.04 L237.68,265.27 L238.42,265.51 L239.16,265.75 L239.91,265.99 L240.65,266.23 L241.40,266.47 L242.14,266.72 L242.89,266.96 L243.63,267.20 L244.38,267.45 L245.12,267.69 L245.86,267.94 L246.61,268.19 L247.35,268.44 L248.10,268.69 L248.84,268.94 L249.59,269.20 L250.33,269.45 L251.07,269.71 L251.82,269.97 L252.56,270.22 L253.31,270.48 L254.05,270.75 L254.80,271.01 L255.54,271.27 L256.29,271.54 L257.03,271.81 L257.77,272.07 L258.52,272.35 L259.26,272.62 L260.01,272.89 L260.75,273.17 L261.50,273.44 L262.24,273.72 L262.98,274.00 L263.73,274.28 L264.47,274.57 L265.22,274.85 L265.96,275.14 L266.71,275.43 L267.45,275.72 L268.20,276.01 L268.94,276.31 L269.68,276.60 L270.43,276.90 L271.17,277.20 L271.92,277.50 L272.66,277.81 L273.41,278.12 L274.15,278.43 L274.89,278.74 L275.64,279.05 L276.38,279.37 L277.13,279.68 L277.87,280.00 L278.62,280.32 L279.36,280.65 L280.10,280.98 L280.85,281.30 L281.59,281.64 L282.34,281.97 L283.08,282.31 L283.83,282.64 L284.57,282.99 L285.32,283.33 L286.06,283.68 L286.80,284.02 L287.55,284.38 L288.29,284.73 L289.04,285.09 L289.78,285.45 L290.53,285.81 L291.27,286.17 L292.01,286.54 L292.76,286.91 L293.50,287.28 L294.25,287.65 L294.99,288.02 L295.74,288.40 L296.48,288.77 L297.23,289.15 L297.97,289.53 L298.71,289.91 L299.46,290.29 L300.20,290.67 L300.95,291.05 L301.69,291.43 L302.44,291.81 L303.18,292.19 L303.92,292.58 L304.67,292.96 L305.41,293.34 L306.16,293.72 L306.90,294.09 L307.65,294.47 L308.39,294.85 L309.14,295.22 L309.88,295.60 L310.62,295.97 L311.37,296.34 L312.11,296.71 L312.86,297.07 L313.60,297.44 L314.35,297.80 L315.09,298.16 L315.83,298.51 L316.58,298.87 L317.32,299.22 L318.07,299.57 L318.81,299.91 L319.56,300.25 L320.30,300.59 L321.05,300.92 L321.79,301.25 L322.53,301.58 L323.28,301.90 L324.02,302.22 L324.77,302.53 L325.51,302.84 L326.26,303.14 L327.00,303.44 L327.75,303.73 L328.49,304.02 L329.23,304.30 L329.98,304.58 L330.72,304.85 L331.47,305.11 L332.21,305.37 L332.96,305.63 L333.70,305.87 L334.44,306.11 L335.19,306.35 L335.93,306.57 L336.68,306.79 L337.42,307.01 L338.17,307.21 L338.91,307.41 L339.66,307.60 L340.40,307.78 L341.14,307.96 L341.89,308.13 L342.63,308.28 L343.38,308.43 L344.12,308.58 L344.87,308.71 L345.61,308.83 L346.35,308.95 L347.10,309.06 L347.84,309.15 L348.59,309.24 L349.33,309.32 L350.08,309.39 L350.82,309.45 L351.56,309.50 L352.31,309.54 L353.05,309.57 L353.80,309.58 L354.54,309.59 L355.29,309.59 L356.03,309.57 L356.78,309.55 L357.52,309.51 L358.26,309.46 L359.01,309.41 L359.75,309.33 L360.50,309.25 L361.24,309.16 L361.99,309.05 L362.73,308.93 L363.47,308.80 L364.22,308.66 L364.96,308.50 L365.71,308.33 L366.45,308.15 L367.20,307.96 L367.94,307.75 L368.69,307.54 L369.43,307.31 L370.17,307.07 L370.92,306.82 L371.66,306.57 L372.41,306.30 L373.15,306.02 L373.90,305.73 L374.64,305.43 L375.38,305.12 L376.13,304.80 L376.87,304.47 L377.62,304.13 L378.36,303.79 L379.11,303.43 L379.85,303.07 L380.60,302.70 L381.34,302.32 L382.08,301.93 L382.83,301.54 L383.57,301.13 L384.32,300.72 L385.06,300.31 L385.81,299.88 L386.55,299.45 L387.29,299.01 L388.04,298.57 L388.78,298.12 L389.53,297.67 L390.27,297.20 L391.02,296.74 L391.76,296.26 L392.51,295.79 L393.25,295.30 L393.99,294.82 L394.74,294.33 L395.48,293.83 L396.23,293.33 L396.97,292.82 L397.72,292.32 L398.46,291.81 L399.20,291.29 L399.95,290.77 L400.69,290.25 L401.44,289.73 L402.18,289.20 L402.93,288.67 L403.67,288.14 L404.42,287.61 L405.16,287.07 L405.90,286.53 L406.65,285.99 L407.39,285.46 L408.14,284.91 L408.88,284.37 L409.63,283.83 L410.37,283.29 L411.12,282.75 L411.86,282.20 L412.60,281.66 L413.35,281.12 L414.09,280.57 L414.84,280.03 L415.58,279.49 L416.33,278.95 L417.07,278.41 L417.81,277.88 L418.56,277.34 L419.30,276.81 L420.05,276.28 L420.79,275.75 L421.54,275.22 L422.28,274.70 L423.02,274.18 L423.77,273.66 L424.51,273.15 L425.26,272.64 L426.00,272.13 L426.75,271.62 L427.49,271.12 L428.24,270.63 L428.98,270.14 L429.72,269.65 L430.47,269.17 L431.21,268.69 L431.96,268.22 L432.70,267.76 L433.45,267.30 L434.19,266.84 L434.94,266.39 L435.68,265.95 L436.42,265.51 L437.17,265.08 L437.91,264.66 L438.66,264.24 L439.40,263.84 L440.15,263.43 L440.89,263.04 L441.63,262.65 L442.38,262.27 L443.12,261.89 L443.87,261.52 L444.61,261.16 L445.36,260.80 L446.10,260.45 L446.85,260.10 L447.59,259.76 L448.33,259.43 L449.08,259.10 L449.82,258.78 L450.57,258.47 L451.31,258.16 L452.06,257.85 L452.80,257.55 L453.54,257.26 L454.29,256.97 L455.03,256.68 L455.78,256.40 L456.52,256.13 L457.27,255.86 L458.01,255.60 L458.75,255.34 L459.50,255.08 L460.24,254.83 L460.99,254.58 L461.73,254.34 L462.48,254.10 L463.22,253.87 L463.97,253.64 L464.71,253.42 L465.45,253.20 L466.20,252.98 L466.94,252.76 L467.69,252.55 L468.43,252.35 L469.18,252.15 L469.92,251.95 L470.67,251.75 L471.41,251.56 L472.15,251.37 L472.90,251.18 L473.64,251.00 L474.39,250.82 L475.13,250.64 L475.88,250.47 L476.62,250.30 L477.36,250.13 L478.11,249.96 L478.85,249.80 L479.60,249.63 L480.34,249.47 L481.09,249.32 L481.83,249.16 L482.58,249.01 L483.32,248.86 L484.06,248.71 L484.81,248.56 L485.55,248.42 L486.30,248.27 L487.04,248.13 L487.79,247.99 L488.53,247.85 L489.27,247.71 L490.02,247.57 L490.76,247.44 L491.51,247.30 L492.25,247.17 L493.00,247.04 L493.74,246.90 L494.49,246.77 L495.23,246.64 L495.97,246.51 L496.72,246.38 L497.46,246.25 L498.21,246.12 L498.95,245.99 L499.70,245.86 L500.44,245.73 L501.18,245.61 L501.93,245.48 L502.67,245.35 L503.42,245.22 L504.16,245.09 L504.91,244.96 L505.65,244.83 L506.40,244.70 L507.14,244.56 L507.88,244.43 L508.63,244.30 L509.37,244.16 L510.12,244.03 L510.86,243.89 L511.61,243.75 L512.35,243.61 L513.09,243.47 L513.84,243.33 L514.58,243.19 L515.33,243.04 L516.07,242.90 L516.82,242.75 L517.56,242.60 L518.31,242.45 L519.05,242.30 L519.79,242.15 L520.54,242.00 L521.28,241.85 L522.03,241.69 L522.77,241.54 L523.52,241.38 L524.26,241.22 L525.00,241.07 L525.75,240.91 L526.49,240.75 L527.24,240.59 L527.98,240.43 L528.73,240.27 L529.47,240.11 L530.21,239.94 L530.96,239.78 L531.70,239.62 L532.45,239.45 L533.19,239.29 L533.94,239.12 L534.68,238.96 L535.43,238.79 L536.17,238.63 L536.91,238.46 L537.66,238.30 L538.40,238.13 L539.15,237.96 L539.89,237.80 L540.64,237.63 L541.38,237.47 L542.12,237.30 L542.87,237.13 L543.61,236.97 L544.36,236.80 L545.10,236.63 L545.85,236.47 L546.59,236.30 L547.34,236.14 L548.08,235.97 L548.82,235.81 L549.57,235.64 L550.31,235.48 L551.06,235.31 L551.80,235.15 L552.55,234.99 L553.29,234.82 L554.03,234.66 L554.78,234.50 L555.52,234.34 L556.27,234.18 L557.01,234.02 L557.76,233.86 L558.50,233.70 L559.25,233.55 L559.99,233.39 L560.73,233.23 L561.48,233.08 L562.22,232.93 L562.97,232.77 L563.71,232.62 L564.46,232.47 L565.20,232.32 L565.94,232.17 L566.69,232.03 L567.43,231.88 L568.18,231.73 L568.92,231.59 L569.67,231.45 L570.41,231.31 L571.16,231.17 L571.90,231.03 L572.64,230.89 L573.39,230.76 L574.13,230.62 L574.88,230.49 L575.62,230.36 L576.37,230.23 L577.11,230.10 L577.85,229.98 L578.60,229.85 L579.34,229.73 L580.09,229.61 L580.83,229.49 L581.58,229.37 L582.32,229.26 L583.07,229.14 L583.81,229.03 L584.55,228.92 L585.30,228.81 L586.04,228.71 L586.79,228.60 L587.53,228.50 L588.28,228.40 L589.02,228.31 L589.76,228.21 L590.51,228.12 L591.25,228.03 L592.00,227.94 L592.74,227.85 L593.49,227.76 L594.23,227.68 L594.98,227.60 L595.72,227.52 L596.46,227.44 L597.21,227.36 L597.95,227.29 L598.70,227.21 L599.44,227.14 L600.19,227.07 L600.93,227.00 L601.67,226.93 L602.42,226.87 L603.16,226.81 L603.91,226.74 L604.65,226.68 L605.40,226.62 L606.14,226.56 L606.89,226.51 L607.63,226.45 L608.37,226.40 L609.12,226.34 L609.86,226.29 L610.61,226.24 L611.35,226.19 L612.10,226.14 L612.84,226.09 L613.59,226.05 L614.33,226.00 L615.07,225.96 L615.82,225.92 L616.56,225.87 L617.31,225.83 L618.05,225.79 L618.80,225.75 L619.54,225.71 L620.28,225.67 L621.03,225.64 L621.77,225.60 L622.52,225.57 L623.26,225.53 L624.01,225.50 L624.75,225.46 L625.50,225.43 L626.24,225.40 L626.98,225.37 L627.73,225.33 L628.47,225.30 L629.22,225.27 L629.96,225.24 L630.71,225.21 L631.45,225.18 L632.19,225.16 L632.94,225.13 L633.68,225.10 L634.43,225.07 L635.17,225.04 L635.92,225.01 L636.66,224.99 L637.40,224.96 L638.15,224.93 L638.89,224.91 L639.64,224.88 L640.38,224.85 L641.13,224.82 L641.87,224.80 L642.62,224.77 L643.36,224.74 L644.10,224.72 L644.85,224.69 L645.59,224.66 L646.34,224.63 L647.08,224.60 L647.83,224.58 L648.57,224.55 L649.31,224.52 L650.06,224.49 L650.80,224.46 L651.55,224.43 L652.29,224.40 L653.04,224.37 L653.78,224.34 L654.53,224.30 L655.27,224.27 L656.01,224.24 L656.76,224.20 L657.50,224.17 L658.25,224.13 L658.99,224.10 L659.74,224.06 L660.48,224.02 L661.22,223.99 L661.97,223.95 L662.71,223.91 L663.46,223.87 L664.20,223.82 L664.95,223.78 L665.69,223.74 L666.44,223.70 L667.18,223.65 L667.92,223.61 L668.67,223.56 L669.41,223.52 L670.16,223.47 L670.90,223.42 L671.65,223.38 L672.39,223.33 L673.13,223.28 L673.88,223.23 L674.62,223.18 L675.37,223.13 L676.11,223.08 L676.86,223.03 L677.60,222.98 L678.35,222.93 L679.09,222.88 L679.83,222.83 L680.58,222.78 L681.32,222.73 L682.07,222.68 L682.81,222.63 L683.56,222.57 L684.30,222.52 L685.04,222.47 L685.79,222.42 L686.53,222.37 L687.28,222.32 L688.02,222.27 L688.77,222.22 L689.51,222.17 L690.26,222.12 L691.00,222.07 L691.74,222.02 L692.49,221.97 L693.23,221.92 L693.98,221.87 L694.72,221.82 L695.47,221.77 L696.21,221.72 L696.95,221.68 L697.70,221.63 L698.44,221.58 L699.19,221.54 L699.93,221.49 L700.68,221.45 L701.42,221.40 L702.17,221.36 L702.91,221.32 L703.65,221.28 L704.40,221.24 L705.14,221.19 L705.89,221.15 L706.63,221.12 L707.38,221.08 L708.12,221.04 L708.86,221.00 L709.61,220.97 L710.35,220.93 L711.10,220.90 L711.84,220.87 L712.59,220.84 L713.33,220.81 L714.08,220.78 L714.82,220.75 L715.56,220.72 L716.31,220.70 L717.05,220.67 L717.80,220.65 L718.54,220.63 L719.29,220.61 L720.03,220.59 L720.77,220.57 L721.52,220.55 L722.26,220.54 L723.01,220.52 L723.75,220.51 L724.50,220.50 L725.24,220.49 L725.99,220.48 L726.73,220.47 L727.47,220.47 L728.22,220.46 L728.96,220.46 L729.71,220.46 L730.45,220.46 L731.20,220.47 L731.94,220.47 L732.68,220.48 L733.43,220.49 L734.17,220.50 L734.92,220.51 L735.66,220.52 L736.41,220.54 L737.15,220.56 L737.90,220.58 L738.64,220.60 L739.38,220.62 L740.13,220.64 L740.87,220.67 L741.62,220.70 L742.36,220.73 L743.11,220.76 L743.85,220.80 L744.59,220.83 L745.34,220.87 L746.08,220.91 L746.83,220.95 L747.57,220.99 L748.32,221.03 L749.06,221.07 L749.81,221.12 L750.55,221.17 L751.29,221.22 L752.04,221.27 L752.78,221.32 L753.53,221.37 L754.27,221.43 L755.02,221.48 L755.76,221.54 L756.50,221.60 L757.25,221.66 L757.99,221.72 L758.74,221.78 L759.48,221.84 L760.23,221.91 L760.97,221.97 L761.72,222.04 L762.46,222.10 L763.20,222.17 L763.95,222.24 L764.69,222.31 L765.44,222.38 L766.18,222.46 L766.93,222.53 L767.67,222.60 L768.41,222.68 L769.16,222.75 L769.90,222.83 L770.65,222.91 L771.39,222.99 L772.14,223.07 L772.88,223.15 L773.63,223.23 L774.37,223.31 L775.11,223.39 L775.86,223.47 L776.60,223.55 L777.35,223.64 L778.09,223.72 L778.84,223.81 L779.58,223.89 L780.32,223.98 L781.07,224.06 L781.81,224.15 L782.56,224.24 L783.30,224.33 L784.05,224.41 L784.79,224.50 L785.54,224.59 L786.28,224.68 L787.02,224.77 L787.77,224.86 L788.51,224.95 L789.26,225.04 L790.00,225.13 L790.75,225.22 L791.49,225.31 L792.24,225.40 L792.98,225.49 L793.72,225.58 L794.47,225.67 L795.21,225.76 L795.96,225.85 L796.70,225.94 L797.45,226.03 L798.19,226.12 L798.93,226.21 L799.68,226.30 L800.42,226.39 L801.17,226.48 L801.91,226.57 L802.66,226.66 L803.40,226.75 L804.14,226.84 L804.89,226.93 L805.63,227.02 L806.38,227.10 L807.12,227.19 L807.87,227.28 L808.61,227.37 L809.36,227.45 L810.10,227.54 L810.84,227.62 L811.59,227.71 L812.33,227.79 L813.08,227.88 L813.82,227.96 L814.57,228.04 L815.31,228.12 L816.06,228.21 L816.80,228.29 L817.54,228.37 L818.29,228.45 L819.03,228.52 L819.78,228.60 L820.52,228.68 L821.27,228.75 L822.01,228.83 L822.75,228.90 L823.50,228.98 L824.24,229.05 L824.99,229.12 L825.73,229.19 L826.48,229.26 L827.22,229.33 L827.97,229.40 L828.71,229.46 L829.45,229.53 L830.20,229.59 L830.94,229.65 L831.69,229.72 L832.43,229.78 L833.18,229.84 L833.92,229.89 L834.66,229.95 L835.41,230.01 L836.15,230.06 L836.90,230.11 L837.64,230.16 L838.39,230.21 L839.13,230.26 L839.88,230.31 L840.62,230.35 L841.36,230.40 L842.11,230.44 L842.85,230.48 L843.60,230.52 L844.34,230.56 L845.09,230.59 L845.83,230.63 L846.57,230.66 L847.32,230.69 L848.06,230.72 L848.81,230.75 L849.55,230.77 L850.30,230.80 L851.04,230.82 L851.79,230.84 L852.53,230.86 L853.27,230.87 L854.02,230.89 L854.76,230.90 L855.51,230.91 L856.25,230.92 L857.00,230.92 L857.74,230.93 L858.48,230.93 L859.23,230.93 L859.97,230.93 L860.72,230.92 L861.46,230.92 L862.21,230.91 L862.95,230.90 L863.70,230.89 L864.44,230.87 L865.18,230.85 L865.93,230.83 L866.67,230.81 L867.42,230.78 L868.16,230.76 L868.91,230.73 L869.65,230.69 L870.39,230.66 L871.14,230.62 L871.88,230.58 L872.63,230.54 L873.37,230.50 L874.12,230.45 L874.86,230.40 L875.61,230.34 L876.35,230.29 L877.09,230.23 L877.84,230.17 L878.58,230.11 L879.33,230.04 L880.07,229.97 L880.82,229.90 L881.56,229.82 L882.30,229.74 L883.05,229.66 L883.79,229.58 L884.54,229.49 L885.28,229.40 L886.03,229.31 L886.77,229.21 L887.52,229.12 L888.26,229.01 L889.00,228.91 L889.75,228.81 L890.49,228.70 L891.24,228.59 L891.98,228.48 L892.73,228.36 L893.47,228.24 L894.21,228.13 L894.96,228.01 L895.70,227.89 L896.45,227.76 L897.19,227.64 L897.94,227.52 L898.68,227.39 L899.43,227.26 L900.17,227.14 L900.91,227.01 L901.66,226.88 L902.40,226.75 L903.15,226.62 L903.89,226.49 L904.64,226.35 L905.38,226.22 L906.12,226.09 L906.87,225.96 L907.61,225.83 L908.36,225.70 L909.10,225.57 L909.85,225.44 L910.59,225.31 L911.34,225.18 L912.08,225.05 L912.82,224.92 L913.57,224.80 L914.31,224.67 L915.06,224.55 L915.80,224.43 L916.55,224.30 L917.29,224.18 L918.03,224.07 L918.78,223.95 L919.52,223.84 L920.27,223.72 L921.01,223.61 L921.76,223.50 L922.50,223.40 L923.25,223.29 L923.99,223.19 L924.73,223.09 L925.48,223.00 L926.22,222.90 L926.97,222.81 L927.71,222.72 L928.46,222.64 L929.20,222.56 L929.94,222.48 L930.69,222.40 L931.43,222.33 L932.18,222.26 L932.92,222.20 L933.67,222.14 L934.41,222.08 L935.15,222.03 L935.90,221.98 L936.64,221.94 L937.39,221.90 L938.13,221.86 L938.88,221.83 L939.62,221.81 L940.37,221.79 L941.11,221.77 L941.85,221.76 L942.60,221.75 L943.34,221.75 L944.09,221.75 L944.83,221.76 L945.58,221.78 L946.32,221.80 L947.06,221.82 L947.81,221.86 L948.55,221.89 L949.30,221.94 L950.04,221.99 L950.79,222.04 L951.53,222.10 L952.28,222.17 L953.02,222.25 L953.76,222.33 L954.51,222.42 L955.25,222.51 L956.00,222.62 L956.74,222.73 L957.49,222.84 L958.23,222.97 L958.98,223.10 L959.72,223.24 L960.46,223.38 L961.21,223.54 L961.95,223.70 L962.70,223.86 L963.44,224.04 L964.19,224.22 L964.93,224.41 L965.67,224.60 L966.42,224.80 L967.16,225.01 L967.91,225.23 L968.65,225.45 L969.40,225.68 L970.14,225.91 L970.88,226.15 L971.63,226.39 L972.37,226.65 L973.12,226.90 L973.86,227.17 L974.61,227.43 L975.35,227.71 L976.10,227.99 L976.84,228.27 L977.58,228.56 L978.33,228.86 L979.07,229.16 L979.82,229.46 L980.56,229.77 L981.31,230.09 L982.05,230.41 L982.80,230.73 L983.54,231.06 L984.28,231.40 L985.03,231.73 L985.77,232.08 L986.52,232.42 L987.26,232.77 L988.01,233.13 L988.75,233.48 L989.49,233.85 L990.24,234.21 L990.98,234.58 L991.73,234.95 L992.47,235.33 L993.22,235.71 L993.96,236.09 L994.71,236.48 L995.45,236.87 L996.19,237.26 L996.94,237.65 L997.68,238.05 L998.43,238.45 L999.17,238.86 L999.92,239.26 L1000.66,239.67 L1001.40,240.08 L1002.15,240.49 L1002.89,240.91 L1003.64,241.32 L1004.38,241.74 L1005.13,242.16 L1005.87,242.58 L1006.62,243.01 L1007.36,243.43 L1008.10,243.86 L1008.85,244.29 L1009.59,244.72 L1010.34,245.15 L1011.08,245.58 L1011.83,246.02 L1012.57,246.45 L1013.31,246.88 L1014.06,247.32 L1014.80,247.76 L1015.55,248.19 L1016.29,248.63 L1017.04,249.07 L1017.78,249.51 L1018.52,249.95 L1019.27,250.39 L1020.01,250.82 L1020.76,251.26 L1021.50,251.70 L1022.25,252.14 L1022.99,252.58 L1023.74,253.01 L1024.48,253.45 L1025.22,253.89 L1025.97,254.32 L1026.71,254.76 L1027.46,255.19 L1028.20,255.63 L1028.95,256.06 L1029.69,256.49 L1030.43,256.92 L1031.18,257.35 L1031.92,257.77 L1032.67,258.20 L1033.41,258.62 L1034.16,259.04 L1034.90,259.46 L1035.65,259.88 L1036.39,260.30 L1037.13,260.71 L1037.88,261.13 L1038.62,261.54 L1039.37,261.94 L1040.11,262.35 L1040.86,262.75 L1041.60,263.15 L1042.35,263.55 L1043.09,263.95 L1043.83,264.34 L1044.58,264.73 L1045.32,265.12 L1046.07,265.51 L1046.81,265.89 L1047.56,266.27 L1048.30,266.64 L1049.04,267.02 L1049.79,267.39 L1050.53,267.75 L1051.28,268.12 L1052.02,268.47 L1052.77,268.83 L1053.51,269.18 L1054.25,269.53 L1055.00,269.88 L1055.74,270.22 L1056.49,270.56 L1057.23,270.89 L1057.98,271.22 L1058.72,271.55 L1059.47,271.87 L1060.21,272.19 L1060.95,272.50 L1061.70,272.81 L1062.44,273.11 L1063.19,273.41 L1063.93,273.71 L1064.68,274.00 L1065.42,274.29 L1066.16,274.57 L1066.91,274.85 L1067.65,275.12 L1068.40,275.38 L1069.14,275.65 L1069.89,275.90 L1070.63,276.15 L1071.38,276.40 L1072.12,276.64 L1072.86,276.88 L1073.61,277.11 L1074.35,277.33 L1075.10,277.55 L1075.84,277.76 L1076.59,277.97 L1077.33,278.17 L1078.07,278.37 L1078.82,278.56 L1079.56,278.74 L1080.31,278.92 L1081.05,279.09 L1081.80,279.26 L1082.54,279.42 L1083.29,279.57 L1084.03,279.72 L1084.77,279.86 L1085.52,279.99 L1086.26,280.11 L1087.01,280.23 L1087.75,280.35 L1088.50,280.45 L1089.24,280.55 L1089.98,280.64 L1090.73,280.73 L1091.47,280.81 L1092.22,280.88 L1092.96,280.94 L1093.71,281.00 L1094.45,281.04 L1095.20,281.08 L1095.94,281.12 L1096.68,281.14 L1097.43,281.16 L1098.17,281.17 L1098.92,281.17 L1099.66,281.17 L1100.41,281.15 L1101.15,281.13 L1101.89,281.10 L1102.64,281.06 L1103.38,281.02 L1104.13,280.96 L1104.87,280.90 L1105.62,280.83 L1106.36,280.74 L1107.11,280.66 L1107.85,280.56 L1108.59,280.45 L1109.34,280.34 L1110.08,280.21 L1110.83,280.08 L1111.57,279.94 L1112.32,279.79 L1113.06,279.63 L1113.81,279.47 L1114.55,279.30 L1115.29,279.12 L1116.04,278.93 L1116.78,278.74 L1117.53,278.54 L1118.27,278.33 L1119.02,278.11 L1119.76,277.89 L1120.50,277.67 L1121.25,277.43 L1121.99,277.19 L1122.74,276.95 L1123.48,276.69 L1124.23,276.44 L1124.97,276.17 L1125.71,275.91 L1126.46,275.63 L1127.20,275.35 L1127.95,275.07 L1128.69,274.78 L1129.44,274.49 L1130.18,274.19 L1130.93,273.89 L1131.67,273.58 L1132.41,273.27 L1133.16,272.96 L1133.90,272.64 L1134.65,272.32 L1135.39,271.99 L1136.14,271.66 L1136.88,271.33 L1137.62,271.00 L1138.37,270.66 L1139.11,270.32 L1139.86,269.97 L1140.60,269.63 L1141.35,269.28 L1142.09,268.93 L1142.84,268.58 L1143.58,268.22 L1144.32,267.87 L1145.07,267.51 L1145.81,267.15 L1146.56,266.79 L1147.30,266.43 L1148.05,266.07 L1148.79,265.71 L1149.53,265.34 L1150.28,264.98 L1151.02,264.61 L1151.77,264.25 L1152.51,263.88 L1153.26,263.52 L1154.00,263.15 L1154.75,262.79 L1155.49,262.43 L1156.23,262.06 L1156.98,261.70 L1157.72,261.34 L1158.47,260.98 L1159.21,260.62 L1159.96,260.26 L1160.70,259.90 L1161.44,259.55 L1162.19,259.20 L1162.93,258.85 L1163.68,258.50 L1164.42,258.15 L1165.17,257.81 L1165.91,257.46 L1166.66,257.13 L1167.40,256.79 L1168.14,256.46 L1168.89,256.13 L1169.63,255.80 L1170.38,255.48 L1171.12,255.16 L1171.87,254.84 L1172.61,254.53 L1173.36,254.22 L1174.10,253.92 L1174.84,253.62 L1175.59,253.32 L1176.33,253.03 L1177.08,252.75 L1177.82,252.47 L1178.57,252.19 L1179.31,251.92 L1180.05,251.66 L1180.80,251.40 L1181.54,251.14 L1182.29,250.89 L1183.03,250.65 L1183.78,250.42 L1184.52,250.19 L1185.26,249.96 L1186.01,249.74 L1186.75,249.53 L1187.50,249.32 L1188.24,249.12 L1188.99,248.93 L1189.73,248.74 L1190.48,248.56 L1191.22,248.38 L1191.96,248.21 L1192.71,248.04 L1193.45,247.89 L1194.20,247.73 L1194.94,247.59 L1195.69,247.44 L1196.43,247.31 L1197.17,247.18 L1197.92,247.05 L1198.66,246.94 L1199.41,246.82 L1200.15,246.72 L1200.90,246.62 L1201.64,246.52 L1202.39,246.44 L1203.13,246.35 L1203.87,246.28 L1204.62,246.21 L1205.36,246.14 L1206.11,246.08 L1206.85,246.03 L1207.60,245.98 L1208.34,245.94 L1209.09,245.90 L1209.83,245.87 L1210.57,245.85 L1211.32,245.83 L1212.06,245.82 L1212.81,245.81 L1213.55,245.81 L1214.30,245.82 L1215.04,245.83 L1215.78,245.85 L1216.53,245.87 L1217.27,245.90 L1218.02,245.93 L1218.76,245.97 L1219.51,246.02 L1220.25,246.07 L1221.00,246.13 L1221.74,246.19 L1222.48,246.26 L1223.23,246.34 L1223.97,246.42 L1224.72,246.50 L1225.46,246.60 L1226.21,246.70 L1226.95,246.80 L1227.69,246.91 L1228.44,247.02 L1229.18,247.15 L1229.93,247.27 L1230.67,247.41 L1231.42,247.55 L1232.16,247.69 L1232.90,247.84 L1233.65,248.00 L1234.39,248.16 L1235.14,248.33 L1235.88,248.50 L1236.63,248.68 L1237.37,248.86 L1238.12,249.06 L1238.86,249.25 L1239.60,249.45 L1240.35,249.66 L1241.09,249.88 L1241.84,250.10 L1242.58,250.32 L1243.33,250.55 L1244.07,250.79 L1244.81,251.03 L1245.56,251.28 L1246.30,251.53 L1247.05,251.79 L1247.79,252.06 L1248.54,252.33 L1249.28,252.61 L1250.03,252.89 L1250.77,253.18 L1251.51,253.47 L1252.26,253.77 L1253.00,254.08 L1253.75,254.39 L1254.49,254.71 L1255.24,255.03 L1255.98,255.36 L1256.72,255.69 L1257.47,256.03 L1258.21,256.38 L1258.96,256.73 L1259.70,257.08 L1260.45,257.44 L1261.19,257.81 L1261.94,258.18 L1262.68,258.56 L1263.42,258.94 L1264.17,259.33 L1264.91,259.72 L1265.66,260.12 L1266.40,260.52 L1267.15,260.93 L1267.89,261.34 L1268.63,261.76 L1269.38,262.18 L1270.12,262.60 L1270.87,263.03 L1271.61,263.47 L1272.36,263.91 L1273.10,264.35 L1273.85,264.79 L1274.59,265.24 L1275.33,265.70 L1276.08,266.16 L1276.82,266.62 L1277.57,267.08 L1278.31,267.55 L1279.06,268.02 L1279.80,268.50 L1280.54,268.98 L1281.29,269.46 L1282.03,269.95 L1282.78,270.44 L1283.52,270.93 L1284.27,271.43 L1285.01,271.92 L1285.76,272.43 L1286.50,272.93 L1287.24,273.44 L1287.99,273.95 L1288.73,274.46 L1289.48,274.97 L1290.22,275.49 L1290.97,276.01 L1291.71,276.53 L1292.45,277.05 L1293.20,277.58 L1293.94,278.11 L1294.69,278.64 L1295.43,279.17 L1296.18,279.70 L1296.92,280.24 L1297.67,280.78 L1298.41,281.32 L1299.15,281.86 L1299.90,282.40 L1300.64,282.94 L1301.39,283.49 L1302.13,284.03 L1302.88,284.58 L1303.62,285.13 L1304.37,285.68 L1305.11,286.23 L1305.85,286.78 L1306.60,287.33 L1307.34,287.88 L1308.09,288.44 L1308.83,288.99 L1309.58,289.54 L1310.32,290.10 L1311.06,290.65 L1311.81,291.21 L1312.55,291.76 L1313.30,292.32 L1314.04,292.88 L1314.79,293.43 L1315.53,293.99 L1316.28,294.54 L1317.02,295.10 L1317.76,295.65 L1318.51,296.21 L1319.25,296.76 L1320.00,297.32 L1320.74,297.87 L1321.49,298.42 L1322.23,298.98 L1322.97,299.53 L1323.72,300.08 L1324.46,300.63 L1325.21,301.17 L1325.95,301.72 L1326.70,302.27 L1327.44,302.81 L1328.18,303.35 L1328.93,303.90 L1329.67,304.44 L1330.42,304.98 L1331.16,305.51 L1331.91,306.05 L1332.65,306.58 L1333.40,307.11 L1334.14,307.65 L1334.88,308.17 L1335.63,308.70 L1336.37,309.23 L1337.12,309.75 L1337.86,310.27 L1338.61,310.79 L1339.35,311.31 L1340.10,311.83 L1340.84,312.35 L1341.58,312.86 L1342.33,313.38 L1343.07,313.89 L1343.82,314.40 L1344.56,314.91 L1345.31,315.42 L1346.05,315.92 L1346.79,316.43 L1347.54,316.93 L1348.28,317.43 L1349.03,317.93 L1349.77,318.43 L1350.52,318.93 L1351.26,319.43 L1352.00,319.93 L1352.75,320.42 L1353.49,320.91 L1354.24,321.41 L1354.98,321.90 L1355.73,322.39 L1356.47,322.88 L1357.22,323.36 L1357.96,323.85 L1358.70,324.34 L1359.45,324.82 L1360.19,325.30 L1360.94,325.79 L1361.68,326.27 L1362.43,326.75 L1363.17,327.23 L1363.91,327.71 L1364.66,328.18 L1365.40,328.66 L1366.15,329.13 L1366.89,329.61 L1367.64,330.08 L1368.38,330.56 L1369.13,331.03 L1369.87,331.50 L1370.61,331.97 L1371.36,332.44 L1372.10,332.91 L1372.85,333.38 L1373.59,333.84 L1374.34,334.31 L1375.08,334.78 L1375.83,335.24 L1376.57,335.71 L1377.31,336.17 L1378.06,336.63 L1378.80,337.10 L1379.55,337.56 L1380.29,338.02 L1381.04,338.48 L1381.78,338.94 L1382.52,339.40 L1383.27,339.86 L1384.01,340.32 L1384.76,340.77 L1385.50,341.23 L1386.25,341.69 L1386.99,342.15 L1387.74,342.60 L1388.48,343.06 L1389.22,343.51 L1389.97,343.97 L1390.71,344.42 L1391.46,344.88 L1392.20,345.33 L1392.95,345.79 L1393.69,346.24 L1394.43,346.69 L1395.18,347.15 L1395.92,347.60 L1396.67,348.05 L1397.41,348.50 L1398.16,348.96 L1398.90,349.41 L1399.64,349.86 L1400.39,350.31 L1401.13,350.76 L1401.88,351.21 L1402.62,351.67 L1403.37,352.12 L1404.11,352.57 L1404.86,353.02 L1405.60,353.47" fill="none" stroke="#0000ff" stroke-width="6.10" stroke-linejoin="round"/>
<polygon points="214.60,243.51 201.90,265.51 227.30,265.51" fill="#0000ff"/>
<polygon points="289.04,270.42 276.34,292.42 301.74,292.42" fill="#0000ff"/>
<polygon points="363.47,294.13 350.77,316.13 376.17,316.13" fill="#0000ff"/>
<polygon points="437.91,250.00 425.21,271.99 450.61,271.99" fill="#0000ff"/>
<polygon points="512.35,228.95 499.65,250.94 525.05,250.94" fill="#0000ff"/>
<polygon points="586.79,213.94 574.09,235.94 599.49,235.94" fill="#0000ff"/>
<polygon points="661.22,209.32 648.52,231.32 673.92,231.32" fill="#0000ff"/>
<polygon points="735.66,205.86 722.96,227.85 748.36,227.85" fill="#0000ff"/>
<polygon points="810.10,212.87 797.40,234.87 822.80,234.87" fill="#0000ff"/>
<polygon points="884.54,214.83 871.84,236.82 897.24,236.82" fill="#0000ff"/>
<polygon points="958.98,208.43 946.27,230.43 971.68,230.43" fill="#0000ff"/>
<polygon points="1033.41,243.96 1020.71,265.95 1046.11,265.95" fill="#0000ff"/>
<polygon points="1107.85,265.89 1095.15,287.89 1120.55,287.89" fill="#0000ff"/>
<polygon points="1182.29,236.23 1169.59,258.23 1194.99,258.23" fill="#0000ff"/>
<polygon points="1256.72,241.03 1244.02,263.02 1269.42,263.02" fill="#0000ff"/>
<polygon points="1331.16,290.85 1318.46,312.85 1343.86,312.85" fill="#0000ff"/>
<polygon points="1405.60,338.81 1392.90,360.80 1418.30,360.80" fill="#0000ff"/>
<path d="M214.60,346.45 L215.34,346.87 L216.09,347.29 L216.83,347.71 L217.58,348.14 L218.32,348.56 L219.07,348.99 L219.81,349.42 L220.56,349.85 L221.30,350.29 L222.04,350.73 L222.79,351.18 L223.53,351.63 L224.28,352.09 L225.02,352.55 L225.77,353.03 L226.51,353.51 L227.25,354.00 L228.00,354.50 L228.74,355.00 L229.49,355.52 L230.23,356.05 L230.98,356.58 L231.72,357.13 L232.47,357.70 L233.21,358.27 L233.95,358.86 L234.70,359.46 L235.44,360.07 L236.19,360.70 L236.93,361.34 L237.68,362.00 L238.42,362.67 L239.16,363.37 L239.91,364.07 L240.65,364.80 L241.40,365.54 L242.14,366.30 L242.89,367.09 L243.63,367.89 L244.38,368.71 L245.12,369.55 L245.86,370.41 L246.61,371.30 L247.35,372.20 L248.10,373.13 L248.84,374.09 L249.59,375.06 L250.33,376.06 L251.07,377.09 L251.82,378.14 L252.56,379.21 L253.31,380.32 L254.05,381.45 L254.80,382.60 L255.54,383.79 L256.29,385.00 L257.03,386.24 L257.77,387.51 L258.52,388.81 L259.26,390.14 L260.01,391.51 L260.75,392.90 L261.50,394.33 L262.24,395.78 L262.98,397.27 L263.73,398.80 L264.47,400.36 L265.22,401.95 L265.96,403.58 L266.71,405.24 L267.45,406.94 L268.20,408.68 L268.94,410.45 L269.68,412.26 L270.43,414.11 L271.17,416.00 L271.92,417.93 L272.66,419.90 L273.41,421.90 L274.15,423.95 L274.89,426.04 L275.64,428.17 L276.38,430.34 L277.13,432.56 L277.87,434.82 L278.62,437.12 L279.36,439.47 L280.10,441.86 L280.85,444.30 L281.59,446.78 L282.34,449.31 L283.08,451.89 L283.83,454.51 L284.57,457.18 L285.32,459.90 L286.06,462.67 L286.80,465.49 L287.55,468.36 L288.29,471.28 L289.04,474.25 L289.78,477.27 L290.53,480.35 L291.27,483.47 L292.01,486.63 L292.76,489.85 L293.50,493.11 L294.25,496.41 L294.99,499.75 L295.74,503.14 L296.48,506.56 L297.23,510.02 L297.97,513.52 L298.71,517.05 L299.46,520.62 L300.20,524.22 L300.95,527.85 L301.69,531.51 L302.44,535.19 L303.18,538.91 L303.92,542.64 L304.67,546.41 L305.41,550.19 L306.16,554.00 L306.90,557.83 L307.65,561.67 L308.39,565.53 L309.14,569.41 L309.88,573.30 L310.62,577.21 L311.37,581.12 L312.11,585.05 L312.86,588.98 L313.60,592.93 L314.35,596.88 L315.09,600.83 L315.83,604.79 L316.58,608.74 L317.32,612.70 L318.07,616.66 L318.81,620.62 L319.56,624.57 L320.30,628.51 L321.05,632.46 L321.79,636.39 L322.53,640.31 L323.28,644.22 L324.02,648.13 L324.77,652.01 L325.51,655.89 L326.26,659.74 L327.00,663.58 L327.75,667.40 L328.49,671.20 L329.23,674.98 L329.98,678.74 L330.72,682.47 L331.47,686.18 L332.21,689.86 L332.96,693.51 L333.70,697.13 L334.44,700.72 L335.19,704.27 L335.93,707.79 L336.68,711.28 L337.42,714.73 L338.17,718.14 L338.91,721.52 L339.66,724.85 L340.40,728.14 L341.14,731.38 L341.89,734.58 L342.63,737.74 L343.38,740.84 L344.12,743.90 L344.87,746.91 L345.61,749.86 L346.35,752.77 L347.10,755.61 L347.84,758.40 L348.59,761.14 L349.33,763.81 L350.08,766.42 L350.82,768.98 L351.56,771.47 L352.31,773.89 L353.05,776.25 L353.80,778.54 L354.54,780.77 L355.29,782.92 L356.03,785.00 L356.78,787.01 L357.52,788.95 L358.26,790.81 L359.01,792.59 L359.75,794.30 L360.50,795.92 L361.24,797.47 L361.99,798.93 L362.73,800.31 L363.47,801.61 L364.22,802.81 L364.96,803.94 L365.71,804.98 L366.45,805.93 L367.20,806.81 L367.94,807.60 L368.69,808.32 L369.43,808.96 L370.17,809.52 L370.92,810.01 L371.66,810.42 L372.41,810.76 L373.15,811.03 L373.90,811.23 L374.64,811.37 L375.38,811.43 L376.13,811.43 L376.87,811.36 L377.62,811.24 L378.36,811.04 L379.11,810.79 L379.85,810.48 L380.60,810.11 L381.34,809.68 L382.08,809.20 L382.83,808.67 L383.57,808.08 L384.32,807.43 L385.06,806.74 L385.81,806.00 L386.55,805.21 L387.29,804.37 L388.04,803.49 L388.78,802.57 L389.53,801.60 L390.27,800.59 L391.02,799.54 L391.76,798.45 L392.51,797.32 L393.25,796.15 L393.99,794.95 L394.74,793.72 L395.48,792.46 L396.23,791.16 L396.97,789.83 L397.72,788.47 L398.46,787.09 L399.20,785.68 L399.95,784.25 L400.69,782.79 L401.44,781.31 L402.18,779.80 L402.93,778.28 L403.67,776.74 L404.42,775.19 L405.16,773.61 L405.90,772.02 L406.65,770.42 L407.39,768.81 L408.14,767.18 L408.88,765.55 L409.63,763.91 L410.37,762.26 L411.12,760.60 L411.86,758.94 L412.60,757.28 L413.35,755.61 L414.09,753.95 L414.84,752.28 L415.58,750.62 L416.33,748.96 L417.07,747.31 L417.81,745.66 L418.56,744.01 L419.30,742.38 L420.05,740.76 L420.79,739.14 L421.54,737.54 L422.28,735.95 L423.02,734.38 L423.77,732.82 L424.51,731.29 L425.26,729.76 L426.00,728.26 L426.75,726.78 L427.49,725.33 L428.24,723.89 L428.98,722.48 L429.72,721.10 L430.47,719.75 L431.21,718.42 L431.96,717.13 L432.70,715.86 L433.45,714.63 L434.19,713.43 L434.94,712.27 L435.68,711.15 L436.42,710.06 L437.17,709.01 L437.91,708.00 L438.66,707.03 L439.40,706.11 L440.15,705.22 L440.89,704.38 L441.63,703.57 L442.38,702.81 L443.12,702.08 L443.87,701.39 L444.61,700.74 L445.36,700.12 L446.10,699.55 L446.85,699.01 L447.59,698.50 L448.33,698.03 L449.08,697.60 L449.82,697.20 L450.57,696.83 L451.31,696.50 L452.06,696.19 L452.80,695.93 L453.54,695.69 L454.29,695.49 L455.03,695.31 L455.78,695.17 L456.52,695.05 L457.27,694.97 L458.01,694.91 L458.75,694.89 L459.50,694.89 L460.24,694.92 L460.99,694.97 L461.73,695.05 L462.48,695.16 L463.22,695.30 L463.97,695.45 L464.71,695.64 L465.45,695.84 L466.20,696.07 L466.94,696.33 L467.69,696.60 L468.43,696.90 L469.18,697.22 L469.92,697.56 L470.67,697.93 L471.41,698.31 L472.15,698.71 L472.90,699.13 L473.64,699.57 L474.39,700.03 L475.13,700.50 L475.88,700.99 L476.62,701.50 L477.36,702.03 L478.11,702.57 L478.85,703.12 L479.60,703.70 L480.34,704.28 L481.09,704.88 L481.83,705.49 L482.58,706.12 L483.32,706.75 L484.06,707.40 L484.81,708.06 L485.55,708.73 L486.30,709.42 L487.04,710.11 L487.79,710.81 L488.53,711.52 L489.27,712.24 L490.02,712.96 L490.76,713.70 L491.51,714.44 L492.25,715.18 L493.00,715.93 L493.74,716.69 L494.49,717.46 L495.23,718.22 L495.97,718.99 L496.72,719.77 L497.46,720.55 L498.21,721.33 L498.95,722.11 L499.70,722.89 L500.44,723.68 L501.18,724.46 L501.93,725.25 L502.67,726.03 L503.42,726.82 L504.16,727.60 L504.91,728.38 L505.65,729.16 L506.40,729.93 L507.14,730.71 L507.88,731.47 L508.63,732.24 L509.37,733.00 L510.12,733.75 L510.86,734.50 L511.61,735.24 L512.35,735.98 L513.09,736.70 L513.84,737.42 L514.58,738.14 L515.33,738.84 L516.07,739.54 L516.82,740.24 L517.56,740.92 L518.31,741.60 L519.05,742.28 L519.79,742.95 L520.54,743.61 L521.28,744.27 L522.03,744.92 L522.77,745.57 L523.52,746.21 L524.26,746.84 L525.00,747.47 L525.75,748.10 L526.49,748.72 L527.24,749.34 L527.98,749.95 L528.73,750.56 L529.47,751.17 L530.21,751.77 L530.96,752.37 L531.70,752.96 L532.45,753.55 L533.19,754.14 L533.94,754.72 L534.68,755.31 L535.43,755.89 L536.17,756.46 L536.91,757.04 L537.66,757.61 L538.40,758.18 L539.15,758.74 L539.89,759.31 L540.64,759.87 L541.38,760.44 L542.12,761.00 L542.87,761.56 L543.61,762.11 L544.36,762.67 L545.10,763.23 L545.85,763.78 L546.59,764.34 L547.34,764.89 L548.08,765.45 L548.82,766.00 L549.57,766.56 L550.31,767.12 L551.06,767.67 L551.80,768.23 L552.55,768.78 L553.29,769.34 L554.03,769.90 L554.78,770.46 L555.52,771.02 L556.27,771.59 L557.01,772.15 L557.76,772.72 L558.50,773.28 L559.25,773.85 L559.99,774.43 L560.73,775.00 L561.48,775.58 L562.22,776.16 L562.97,776.74 L563.71,777.33 L564.46,777.92 L565.20,778.51 L565.94,779.10 L566.69,779.70 L567.43,780.31 L568.18,780.91 L568.92,781.52 L569.67,782.14 L570.41,782.76 L571.16,783.38 L571.90,784.01 L572.64,784.64 L573.39,785.28 L574.13,785.93 L574.88,786.57 L575.62,787.23 L576.37,787.89 L577.11,788.55 L577.85,789.22 L578.60,789.90 L579.34,790.58 L580.09,791.27 L580.83,791.97 L581.58,792.67 L582.32,793.38 L583.07,794.10 L583.81,794.82 L584.55,795.55 L585.30,796.29 L586.04,797.03 L586.79,797.79 L587.53,798.55 L588.28,799.32 L589.02,800.09 L589.76,800.87 L590.51,801.66 L591.25,802.46 L592.00,803.26 L592.74,804.06 L593.49,804.87 L594.23,805.69 L594.98,806.51 L595.72,807.34 L596.46,808.16 L597.21,809.00 L597.95,809.83 L598.70,810.67 L599.44,811.51 L600.19,812.35 L600.93,813.20 L601.67,814.05 L602.42,814.89 L603.16,815.74 L603.91,816.59 L604.65,817.44 L605.40,818.29 L606.14,819.14 L606.89,819.99 L607.63,820.83 L608.37,821.68 L609.12,822.52 L609.86,823.36 L610.61,824.20 L611.35,825.04 L612.10,825.87 L612.84,826.70 L613.59,827.53 L614.33,828.35 L615.07,829.17 L615.82,829.98 L616.56,830.79 L617.31,831.59 L618.05,832.39 L618.80,833.18 L619.54,833.96 L620.28,834.74 L621.03,835.51 L621.77,836.28 L622.52,837.03 L623.26,837.78 L624.01,838.52 L624.75,839.25 L625.50,839.97 L626.24,840.68 L626.98,841.39 L627.73,842.08 L628.47,842.76 L629.22,843.43 L629.96,844.09 L630.71,844.74 L631.45,845.38 L632.19,846.01 L632.94,846.62 L633.68,847.22 L634.43,847.81 L635.17,848.38 L635.92,848.94 L636.66,849.49 L637.40,850.02 L638.15,850.54 L638.89,851.05 L639.64,851.53 L640.38,852.01 L641.13,852.46 L641.87,852.90 L642.62,853.33 L643.36,853.73 L644.10,854.12 L644.85,854.49 L645.59,854.85 L646.34,855.18 L647.08,855.50 L647.83,855.80 L648.57,856.08 L649.31,856.34 L650.06,856.58 L650.80,856.79 L651.55,856.99 L652.29,857.17 L653.04,857.33 L653.78,857.46 L654.53,857.58 L655.27,857.67 L656.01,857.74 L656.76,857.78 L657.50,857.80 L658.25,857.80 L658.99,857.78 L659.74,857.73 L660.48,857.65 L661.22,857.56 L661.97,857.43 L662.71,857.28 L663.46,857.11 L664.20,856.92 L664.95,856.70 L665.69,856.46 L666.44,856.19 L667.18,855.91 L667.92,855.60 L668.67,855.28 L669.41,854.93 L670.16,854.57 L670.90,854.18 L671.65,853.78 L672.39,853.36 L673.13,852.92 L673.88,852.47 L674.62,852.00 L675.37,851.52 L676.11,851.02 L676.86,850.50 L677.60,849.97 L678.35,849.43 L679.09,848.87 L679.83,848.31 L680.58,847.73 L681.32,847.14 L682.07,846.54 L682.81,845.93 L683.56,845.30 L684.30,844.67 L685.04,844.04 L685.79,843.39 L686.53,842.73 L687.28,842.07 L688.02,841.40 L688.77,840.73 L689.51,840.05 L690.26,839.37 L691.00,838.68 L691.74,837.99 L692.49,837.29 L693.23,836.59 L693.98,835.89 L694.72,835.19 L695.47,834.49 L696.21,833.78 L696.95,833.08 L697.70,832.37 L698.44,831.67 L699.19,830.97 L699.93,830.27 L700.68,829.57 L701.42,828.88 L702.17,828.19 L702.91,827.51 L703.65,826.83 L704.40,826.15 L705.14,825.48 L705.89,824.82 L706.63,824.16 L707.38,823.51 L708.12,822.87 L708.86,822.24 L709.61,821.61 L710.35,821.00 L711.10,820.39 L711.84,819.80 L712.59,819.22 L713.33,818.65 L714.08,818.09 L714.82,817.54 L715.56,817.01 L716.31,816.49 L717.05,815.99 L717.80,815.50 L718.54,815.02 L719.29,814.57 L720.03,814.12 L720.77,813.70 L721.52,813.29 L722.26,812.90 L723.01,812.53 L723.75,812.18 L724.50,811.85 L725.24,811.54 L725.99,811.25 L726.73,810.98 L727.47,810.73 L728.22,810.51 L728.96,810.30 L729.71,810.12 L730.45,809.97 L731.20,809.84 L731.94,809.73 L732.68,809.65 L733.43,809.60 L734.17,809.57 L734.92,809.57 L735.66,809.60 L736.41,809.65 L737.15,809.74 L737.90,809.85 L738.64,809.99 L739.38,810.15 L740.13,810.34 L740.87,810.55 L741.62,810.79 L742.36,811.06 L743.11,811.34 L743.85,811.65 L744.59,811.99 L745.34,812.34 L746.08,812.72 L746.83,813.12 L747.57,813.54 L748.32,813.98 L749.06,814.44 L749.81,814.92 L750.55,815.42 L751.29,815.94 L752.04,816.47 L752.78,817.02 L753.53,817.59 L754.27,818.18 L755.02,818.78 L755.76,819.40 L756.50,820.03 L757.25,820.68 L757.99,821.34 L758.74,822.01 L759.48,822.70 L760.23,823.40 L760.97,824.11 L761.72,824.84 L762.46,825.57 L763.20,826.32 L763.95,827.07 L764.69,827.84 L765.44,828.61 L766.18,829.39 L766.93,830.19 L767.67,830.98 L768.41,831.79 L769.16,832.60 L769.90,833.42 L770.65,834.25 L771.39,835.08 L772.14,835.91 L772.88,836.75 L773.63,837.59 L774.37,838.44 L775.11,839.29 L775.86,840.14 L776.60,840.99 L777.35,841.84 L778.09,842.70 L778.84,843.55 L779.58,844.41 L780.32,845.26 L781.07,846.11 L781.81,846.97 L782.56,847.81 L783.30,848.66 L784.05,849.50 L784.79,850.34 L785.54,851.18 L786.28,852.01 L787.02,852.84 L787.77,853.66 L788.51,854.47 L789.26,855.28 L790.00,856.08 L790.75,856.88 L791.49,857.66 L792.24,858.44 L792.98,859.21 L793.72,859.97 L794.47,860.72 L795.21,861.45 L795.96,862.18 L796.70,862.90 L797.45,863.60 L798.19,864.29 L798.93,864.97 L799.68,865.64 L800.42,866.29 L801.17,866.93 L801.91,867.55 L802.66,868.16 L803.40,868.75 L804.14,869.32 L804.89,869.88 L805.63,870.42 L806.38,870.94 L807.12,871.45 L807.87,871.93 L808.61,872.40 L809.36,872.85 L810.10,873.28 L810.84,873.68 L811.59,874.07 L812.33,874.43 L813.08,874.78 L813.82,875.11 L814.57,875.41 L815.31,875.70 L816.06,875.97 L816.80,876.22 L817.54,876.45 L818.29,876.67 L819.03,876.87 L819.78,877.05 L820.52,877.21 L821.27,877.36 L822.01,877.49 L822.75,877.60 L823.50,877.70 L824.24,877.78 L824.99,877.85 L825.73,877.90 L826.48,877.94 L827.22,877.96 L827.97,877.97 L828.71,877.96 L829.45,877.95 L830.20,877.91 L830.94,877.87 L831.69,877.81 L832.43,877.74 L833.18,877.66 L833.92,877.57 L834.66,877.46 L835.41,877.35 L836.15,877.22 L836.90,877.08 L837.64,876.93 L838.39,876.77 L839.13,876.60 L839.88,876.43 L840.62,876.24 L841.36,876.04 L842.11,875.84 L842.85,875.63 L843.60,875.40 L844.34,875.18 L845.09,874.94 L845.83,874.69 L846.57,874.44 L847.32,874.19 L848.06,873.92 L848.81,873.65 L849.55,873.38 L850.30,873.10 L851.04,872.81 L851.79,872.52 L852.53,872.22 L853.27,871.92 L854.02,871.62 L854.76,871.31 L855.51,871.00 L856.25,870.68 L857.00,870.36 L857.74,870.04 L858.48,869.72 L859.23,869.40 L859.97,869.07 L860.72,868.74 L861.46,868.41 L862.21,868.08 L862.95,867.75 L863.70,867.42 L864.44,867.09 L865.18,866.75 L865.93,866.42 L866.67,866.09 L867.42,865.76 L868.16,865.44 L868.91,865.11 L869.65,864.79 L870.39,864.47 L871.14,864.15 L871.88,863.83 L872.63,863.52 L873.37,863.21 L874.12,862.90 L874.86,862.60 L875.61,862.30 L876.35,862.01 L877.09,861.72 L877.84,861.43 L878.58,861.15 L879.33,860.88 L880.07,860.61 L880.82,860.35 L881.56,860.10 L882.30,859.85 L883.05,859.61 L883.79,859.38 L884.54,859.15 L885.28,858.94 L886.03,858.73 L886.77,858.53 L887.52,858.33 L888.26,858.15 L889.00,857.97 L889.75,857.80 L890.49,857.64 L891.24,857.48 L891.98,857.33 L892.73,857.19 L893.47,857.06 L894.21,856.93 L894.96,856.81 L895.70,856.70 L896.45,856.60 L897.19,856.50 L897.94,856.41 L898.68,856.32 L899.43,856.25 L900.17,856.18 L900.91,856.11 L901.66,856.06 L902.40,856.01 L903.15,855.96 L903.89,855.92 L904.64,855.89 L905.38,855.87 L906.12,855.85 L906.87,855.84 L907.61,855.83 L908.36,855.84 L909.10,855.84 L909.85,855.86 L910.59,855.87 L911.34,855.90 L912.08,855.93 L912.82,855.97 L913.57,856.01 L914.31,856.06 L915.06,856.11 L915.80,856.17 L916.55,856.23 L917.29,856.30 L918.03,856.38 L918.78,856.46 L919.52,856.55 L920.27,856.64 L921.01,856.73 L921.76,856.83 L922.50,856.94 L923.25,857.05 L923.99,857.17 L924.73,857.29 L925.48,857.42 L926.22,857.55 L926.97,857.68 L927.71,857.82 L928.46,857.97 L929.20,858.12 L929.94,858.27 L930.69,858.43 L931.43,858.59 L932.18,858.76 L932.92,858.93 L933.67,859.11 L934.41,859.29 L935.15,859.47 L935.90,859.66 L936.64,859.85 L937.39,860.05 L938.13,860.25 L938.88,860.45 L939.62,860.66 L940.37,860.87 L941.11,861.08 L941.85,861.30 L942.60,861.52 L943.34,861.74 L944.09,861.97 L944.83,862.20 L945.58,862.44 L946.32,862.67 L947.06,862.92 L947.81,863.16 L948.55,863.41 L949.30,863.66 L950.04,863.91 L950.79,864.16 L951.53,864.42 L952.28,864.68 L953.02,864.95 L953.76,865.21 L954.51,865.48 L955.25,865.75 L956.00,866.03 L956.74,866.31 L957.49,866.58 L958.23,866.86 L958.98,867.15 L959.72,867.43 L960.46,867.72 L961.21,868.01 L961.95,868.30 L962.70,868.59 L963.44,868.89 L964.19,869.19 L964.93,869.48 L965.67,869.78 L966.42,870.09 L967.16,870.39 L967.91,870.69 L968.65,871.00 L969.40,871.31 L970.14,871.62 L970.88,871.93 L971.63,872.24 L972.37,872.55 L973.12,872.86 L973.86,873.18 L974.61,873.49 L975.35,873.81 L976.10,874.12 L976.84,874.44 L977.58,874.76 L978.33,875.08 L979.07,875.39 L979.82,875.71 L980.56,876.03 L981.31,876.35 L982.05,876.67 L982.80,876.99 L983.54,877.31 L984.28,877.64 L985.03,877.96 L985.77,878.28 L986.52,878.60 L987.26,878.92 L988.01,879.24 L988.75,879.56 L989.49,879.88 L990.24,880.19 L990.98,880.51 L991.73,880.83 L992.47,881.15 L993.22,881.46 L993.96,881.78 L994.71,882.09 L995.45,882.41 L996.19,882.72 L996.94,883.03 L997.68,883.34 L998.43,883.65 L999.17,883.96 L999.92,884.27 L1000.66,884.57 L1001.40,884.88 L1002.15,885.18 L1002.89,885.48 L1003.64,885.78 L1004.38,886.08 L1005.13,886.38 L1005.87,886.67 L1006.62,886.96 L1007.36,887.26 L1008.10,887.54 L1008.85,887.83 L1009.59,888.12 L1010.34,888.40 L1011.08,888.68 L1011.83,888.96 L1012.57,889.23 L1013.31,889.51 L1014.06,889.78 L1014.80,890.05 L1015.55,890.31 L1016.29,890.57 L1017.04,890.83 L1017.78,891.09 L1018.52,891.35 L1019.27,891.60 L1020.01,891.85 L1020.76,892.09 L1021.50,892.34 L1022.25,892.58 L1022.99,892.81 L1023.74,893.04 L1024.48,893.27 L1025.22,893.50 L1025.97,893.72 L1026.71,893.94 L1027.46,894.16 L1028.20,894.37 L1028.95,894.58 L1029.69,894.78 L1030.43,894.98 L1031.18,895.18 L1031.92,895.37 L1032.67,895.56 L1033.41,895.74 L1034.16,895.92 L1034.90,896.10 L1035.65,896.27 L1036.39,896.44 L1037.13,896.60 L1037.88,896.76 L1038.62,896.92 L1039.37,897.07 L1040.11,897.22 L1040.86,897.36 L1041.60,897.50 L1042.35,897.64 L1043.09,897.77 L1043.83,897.90 L1044.58,898.03 L1045.32,898.15 L1046.07,898.27 L1046.81,898.38 L1047.56,898.49 L1048.30,898.60 L1049.04,898.71 L1049.79,898.81 L1050.53,898.90 L1051.28,899.00 L1052.02,899.09 L1052.77,899.18 L1053.51,899.26 L1054.25,899.34 L1055.00,899.42 L1055.74,899.50 L1056.49,899.57 L1057.23,899.64 L1057.98,899.70 L1058.72,899.77 L1059.47,899.83 L1060.21,899.88 L1060.95,899.94 L1061.70,899.99 L1062.44,900.04 L1063.19,900.09 L1063.93,900.13 L1064.68,900.17 L1065.42,900.21 L1066.16,900.24 L1066.91,900.28 L1067.65,900.31 L1068.40,900.34 L1069.14,900.36 L1069.89,900.38 L1070.63,900.41 L1071.38,900.42 L1072.12,900.44 L1072.86,900.46 L1073.61,900.47 L1074.35,900.48 L1075.10,900.49 L1075.84,900.49 L1076.59,900.49 L1077.33,900.50 L1078.07,900.50 L1078.82,900.49 L1079.56,900.49 L1080.31,900.48 L1081.05,900.48 L1081.80,900.47 L1082.54,900.45 L1083.29,900.44 L1084.03,900.43 L1084.77,900.41 L1085.52,900.39 L1086.26,900.37 L1087.01,900.35 L1087.75,900.33 L1088.50,900.30 L1089.24,900.28 L1089.98,900.25 L1090.73,900.22 L1091.47,900.20 L1092.22,900.16 L1092.96,900.13 L1093.71,900.10 L1094.45,900.07 L1095.20,900.03 L1095.94,899.99 L1096.68,899.96 L1097.43,899.92 L1098.17,899.88 L1098.92,899.84 L1099.66,899.80 L1100.41,899.76 L1101.15,899.71 L1101.89,899.67 L1102.64,899.62 L1103.38,899.58 L1104.13,899.53 L1104.87,899.49 L1105.62,899.44 L1106.36,899.39 L1107.11,899.35 L1107.85,899.30 L1108.59,899.25 L1109.34,899.20 L1110.08,899.15 L1110.83,899.10 L1111.57,899.05 L1112.32,899.00 L1113.06,898.95 L1113.81,898.90 L1114.55,898.84 L1115.29,898.79 L1116.04,898.74 L1116.78,898.69 L1117.53,898.64 L1118.27,898.58 L1119.02,898.53 L1119.76,898.48 L1120.50,898.43 L1121.25,898.37 L1121.99,898.32 L1122.74,898.27 L1123.48,898.21 L1124.23,898.16 L1124.97,898.11 L1125.71,898.06 L1126.46,898.00 L1127.20,897.95 L1127.95,897.90 L1128.69,897.85 L1129.44,897.79 L1130.18,897.74 L1130.93,897.69 L1131.67,897.64 L1132.41,897.59 L1133.16,897.54 L1133.90,897.49 L1134.65,897.44 L1135.39,897.39 L1136.14,897.34 L1136.88,897.29 L1137.62,897.24 L1138.37,897.19 L1139.11,897.15 L1139.86,897.10 L1140.60,897.05 L1141.35,897.01 L1142.09,896.96 L1142.84,896.91 L1143.58,896.87 L1144.32,896.83 L1145.07,896.78 L1145.81,896.74 L1146.56,896.70 L1147.30,896.66 L1148.05,896.62 L1148.79,896.58 L1149.53,896.54 L1150.28,896.50 L1151.02,896.46 L1151.77,896.43 L1152.51,896.39 L1153.26,896.36 L1154.00,896.32 L1154.75,896.29 L1155.49,896.26 L1156.23,896.23 L1156.98,896.20 L1157.72,896.17 L1158.47,896.14 L1159.21,896.11 L1159.96,896.09 L1160.70,896.06 L1161.44,896.04 L1162.19,896.02 L1162.93,896.00 L1163.68,895.98 L1164.42,895.96 L1165.17,895.94 L1165.91,895.92 L1166.66,895.91 L1167.40,895.89 L1168.14,895.88 L1168.89,895.87 L1169.63,895.86 L1170.38,895.85 L1171.12,895.84 L1171.87,895.84 L1172.61,895.83 L1173.36,895.83 L1174.10,895.83 L1174.84,895.83 L1175.59,895.83 L1176.33,895.84 L1177.08,895.84 L1177.82,895.85 L1178.57,895.86 L1179.31,895.87 L1180.05,895.88 L1180.80,895.89 L1181.54,895.91 L1182.29,895.92 L1183.03,895.94 L1183.78,895.96 L1184.52,895.98 L1185.26,896.01 L1186.01,896.03 L1186.75,896.06 L1187.50,896.09 L1188.24,896.12 L1188.99,896.15 L1189.73,896.18 L1190.48,896.22 L1191.22,896.25 L1191.96,896.29 L1192.71,896.33 L1193.45,896.37 L1194.20,896.42 L1194.94,896.46 L1195.69,896.51 L1196.43,896.55 L1197.17,896.60 L1197.92,896.65 L1198.66,896.70 L1199.41,896.76 L1200.15,896.81 L1200.90,896.87 L1201.64,896.92 L1202.39,896.98 L1203.13,897.04 L1203.87,897.10 L1204.62,897.16 L1205.36,897.23 L1206.11,897.29 L1206.85,897.36 L1207.60,897.42 L1208.34,897.49 L1209.09,897.56 L1209.83,897.63 L1210.57,897.70 L1211.32,897.78 L1212.06,897.85 L1212.81,897.93 L1213.55,898.00 L1214.30,898.08 L1215.04,898.16 L1215.78,898.24 L1216.53,898.32 L1217.27,898.40 L1218.02,898.48 L1218.76,898.57 L1219.51,898.65 L1220.25,898.74 L1221.00,898.82 L1221.74,898.91 L1222.48,899.00 L1223.23,899.09 L1223.97,899.18 L1224.72,899.27 L1225.46,899.36 L1226.21,899.45 L1226.95,899.54 L1227.69,899.64 L1228.44,899.73 L1229.18,899.83 L1229.93,899.92 L1230.67,900.02 L1231.42,900.12 L1232.16,900.22 L1232.90,900.32 L1233.65,900.42 L1234.39,900.52 L1235.14,900.62 L1235.88,900.72 L1236.63,900.82 L1237.37,900.92 L1238.12,901.03 L1238.86,901.13 L1239.60,901.23 L1240.35,901.34 L1241.09,901.44 L1241.84,901.55 L1242.58,901.66 L1243.33,901.76 L1244.07,901.87 L1244.81,901.98 L1245.56,902.08 L1246.30,902.19 L1247.05,902.30 L1247.79,902.41 L1248.54,902.52 L1249.28,902.63 L1250.03,902.74 L1250.77,902.85 L1251.51,902.96 L1252.26,903.07 L1253.00,903.18 L1253.75,903.29 L1254.49,903.40 L1255.24,903.51 L1255.98,903.63 L1256.72,903.74 L1257.47,903.85 L1258.21,903.96 L1258.96,904.07 L1259.70,904.19 L1260.45,904.30 L1261.19,904.41 L1261.94,904.52 L1262.68,904.64 L1263.42,904.75 L1264.17,904.86 L1264.91,904.97 L1265.66,905.09 L1266.40,905.20 L1267.15,905.31 L1267.89,905.42 L1268.63,905.54 L1269.38,905.65 L1270.12,905.76 L1270.87,905.87 L1271.61,905.99 L1272.36,906.10 L1273.10,906.21 L1273.85,906.32 L1274.59,906.43 L1275.33,906.55 L1276.08,906.66 L1276.82,906.77 L1277.57,906.88 L1278.31,906.99 L1279.06,907.10 L1279.80,907.21 L1280.54,907.32 L1281.29,907.43 L1282.03,907.54 L1282.78,907.65 L1283.52,907.76 L1284.27,907.87 L1285.01,907.98 L1285.76,908.09 L1286.50,908.20 L1287.24,908.31 L1287.99,908.42 L1288.73,908.52 L1289.48,908.63 L1290.22,908.74 L1290.97,908.84 L1291.71,908.95 L1292.45,909.06 L1293.20,909.16 L1293.94,909.27 L1294.69,909.37 L1295.43,909.48 L1296.18,909.58 L1296.92,909.68 L1297.67,909.79 L1298.41,909.89 L1299.15,909.99 L1299.90,910.09 L1300.64,910.19 L1301.39,910.29 L1302.13,910.39 L1302.88,910.49 L1303.62,910.59 L1304.37,910.69 L1305.11,910.79 L1305.85,910.89 L1306.60,910.98 L1307.34,911.08 L1308.09,911.17 L1308.83,911.27 L1309.58,911.36 L1310.32,911.46 L1311.06,911.55 L1311.81,911.64 L1312.55,911.73 L1313.30,911.82 L1314.04,911.91 L1314.79,912.00 L1315.53,912.09 L1316.28,912.18 L1317.02,912.27 L1317.76,912.35 L1318.51,912.44 L1319.25,912.53 L1320.00,912.61 L1320.74,912.69 L1321.49,912.78 L1322.23,912.86 L1322.97,912.94 L1323.72,913.02 L1324.46,913.10 L1325.21,913.18 L1325.95,913.25 L1326.70,913.33 L1327.44,913.41 L1328.18,913.48 L1328.93,913.56 L1329.67,913.63 L1330.42,913.70 L1331.16,913.77 L1331.91,913.84 L1332.65,913.91 L1333.40,913.98 L1334.14,914.05 L1334.88,914.12 L1335.63,914.18 L1336.37,914.25 L1337.12,914.31 L1337.86,914.37 L1338.61,914.44 L1339.35,914.50 L1340.10,914.56 L1340.84,914.62 L1341.58,914.68 L1342.33,914.73 L1343.07,914.79 L1343.82,914.85 L1344.56,914.90 L1345.31,914.96 L1346.05,915.01 L1346.79,915.06 L1347.54,915.12 L1348.28,915.17 L1349.03,915.22 L1349.77,915.27 L1350.52,915.32 L1351.26,915.37 L1352.00,915.42 L1352.75,915.46 L1353.49,915.51 L1354.24,915.56 L1354.98,915.60 L1355.73,915.65 L1356.47,915.69 L1357.22,915.74 L1357.96,915.78 L1358.70,915.82 L1359.45,915.86 L1360.19,915.90 L1360.94,915.95 L1361.68,915.99 L1362.43,916.02 L1363.17,916.06 L1363.91,916.10 L1364.66,916.14 L1365.40,916.18 L1366.15,916.21 L1366.89,916.25 L1367.64,916.29 L1368.38,916.32 L1369.13,916.36 L1369.87,916.39 L1370.61,916.43 L1371.36,916.46 L1372.10,916.49 L1372.85,916.52 L1373.59,916.56 L1374.34,916.59 L1375.08,916.62 L1375.83,916.65 L1376.57,916.68 L1377.31,916.71 L1378.06,916.74 L1378.80,916.77 L1379.55,916.80 L1380.29,916.83 L1381.04,916.86 L1381.78,916.89 L1382.52,916.91 L1383.27,916.94 L1384.01,916.97 L1384.76,917.00 L1385.50,917.02 L1386.25,917.05 L1386.99,917.08 L1387.74,917.10 L1388.48,917.13 L1389.22,917.15 L1389.97,917.18 L1390.71,917.20 L1391.46,917.23 L1392.20,917.25 L1392.95,917.28 L1393.69,917.30 L1394.43,917.33 L1395.18,917.35 L1395.92,917.38 L1396.67,917.40 L1397.41,917.42 L1398.16,917.45 L1398.90,917.47 L1399.64,917.49 L1400.39,917.52 L1401.13,917.54 L1401.88,917.56 L1402.62,917.59 L1403.37,917.61 L1404.11,917.63 L1404.86,917.66 L1405.60,917.68" fill="none" stroke="#ff00ff" stroke-width="6.10" stroke-linejoin="round"/>
<polygon points="214.60,361.12 201.90,339.12 227.30,339.12" fill="#ff00ff"/>
<polygon points="289.04,488.92 276.34,466.92 301.74,466.92" fill="#ff00ff"/>
<polygon points="363.47,816.27 350.77,794.27 376.17,794.27" fill="#ff00ff"/>
<polygon points="437.91,722.66 425.21,700.67 450.61,700.67" fill="#ff00ff"/>
<polygon points="512.35,750.64 499.65,728.64 525.05,728.64" fill="#ff00ff"/>
<polygon points="586.79,812.45 574.09,790.45 599.49,790.45" fill="#ff00ff"/>
<polygon points="661.22,872.22 648.52,850.22 673.92,850.22" fill="#ff00ff"/>
<polygon points="735.66,824.26 722.96,802.27 748.36,802.27" fill="#ff00ff"/>
<polygon points="810.10,887.94 797.40,865.94 822.80,865.94" fill="#ff00ff"/>
<polygon points="884.54,873.82 871.84,851.82 897.24,851.82" fill="#ff00ff"/>
<polygon points="958.98,881.81 946.27,859.82 971.68,859.82" fill="#ff00ff"/>
<polygon points="1033.41,910.41 1020.71,888.41 1046.11,888.41" fill="#ff00ff"/>
<polygon points="1107.85,913.96 1095.15,891.96 1120.55,891.96" fill="#ff00ff"/>
<polygon points="1182.29,910.59 1169.59,888.59 1194.99,888.59" fill="#ff00ff"/>
<polygon points="1256.72,918.40 1244.02,896.40 1269.42,896.40" fill="#ff00ff"/>
<polygon points="1331.16,928.44 1318.46,906.44 1343.86,906.44" fill="#ff00ff"/>
<polygon points="1405.60,932.35 1392.90,910.35 1418.30,910.35" fill="#ff00ff"/>
</g>
<path d="M1199.30,61.00 H1276.00" stroke="#000000" stroke-width="6.20" stroke-linecap="round"/>
<rect x="1228.50" y="51.70" width="18.00" height="18.00" fill="#000000"/>
<text x="1287.3" y="72.50" font-size="45.0" letter-spacing="0.9">GaAs</text>
<path d="M1199.30,118.20 H1276.00" stroke="#ff0000" stroke-width="6.20" stroke-linecap="round"/>
<circle cx="1237.50" cy="118.20" r="10.00" fill="#ff0000"/>
<text x="1287.3" y="129.20" font-size="45.0" letter-spacing="0.9">GaN</text>
<path d="M1199.30,174.60 H1276.00" stroke="#0000ff" stroke-width="6.20" stroke-linecap="round"/>
<polygon points="1237.50,159.94 1224.80,181.93 1250.20,181.93" fill="#0000ff"/>
<text x="1287.3" y="185.50" font-size="45.0" letter-spacing="0.9">InAs</text>
<path d="M1199.30,230.60 H1276.00" stroke="#ff00ff" stroke-width="6.20" stroke-linecap="round"/>
<polygon points="1237.50,245.26 1224.80,223.27 1250.20,223.27" fill="#ff00ff"/>
<text x="1287.3" y="241.50" font-size="45.0" letter-spacing="0.9">Si</text>
</svg>
</body></html>
